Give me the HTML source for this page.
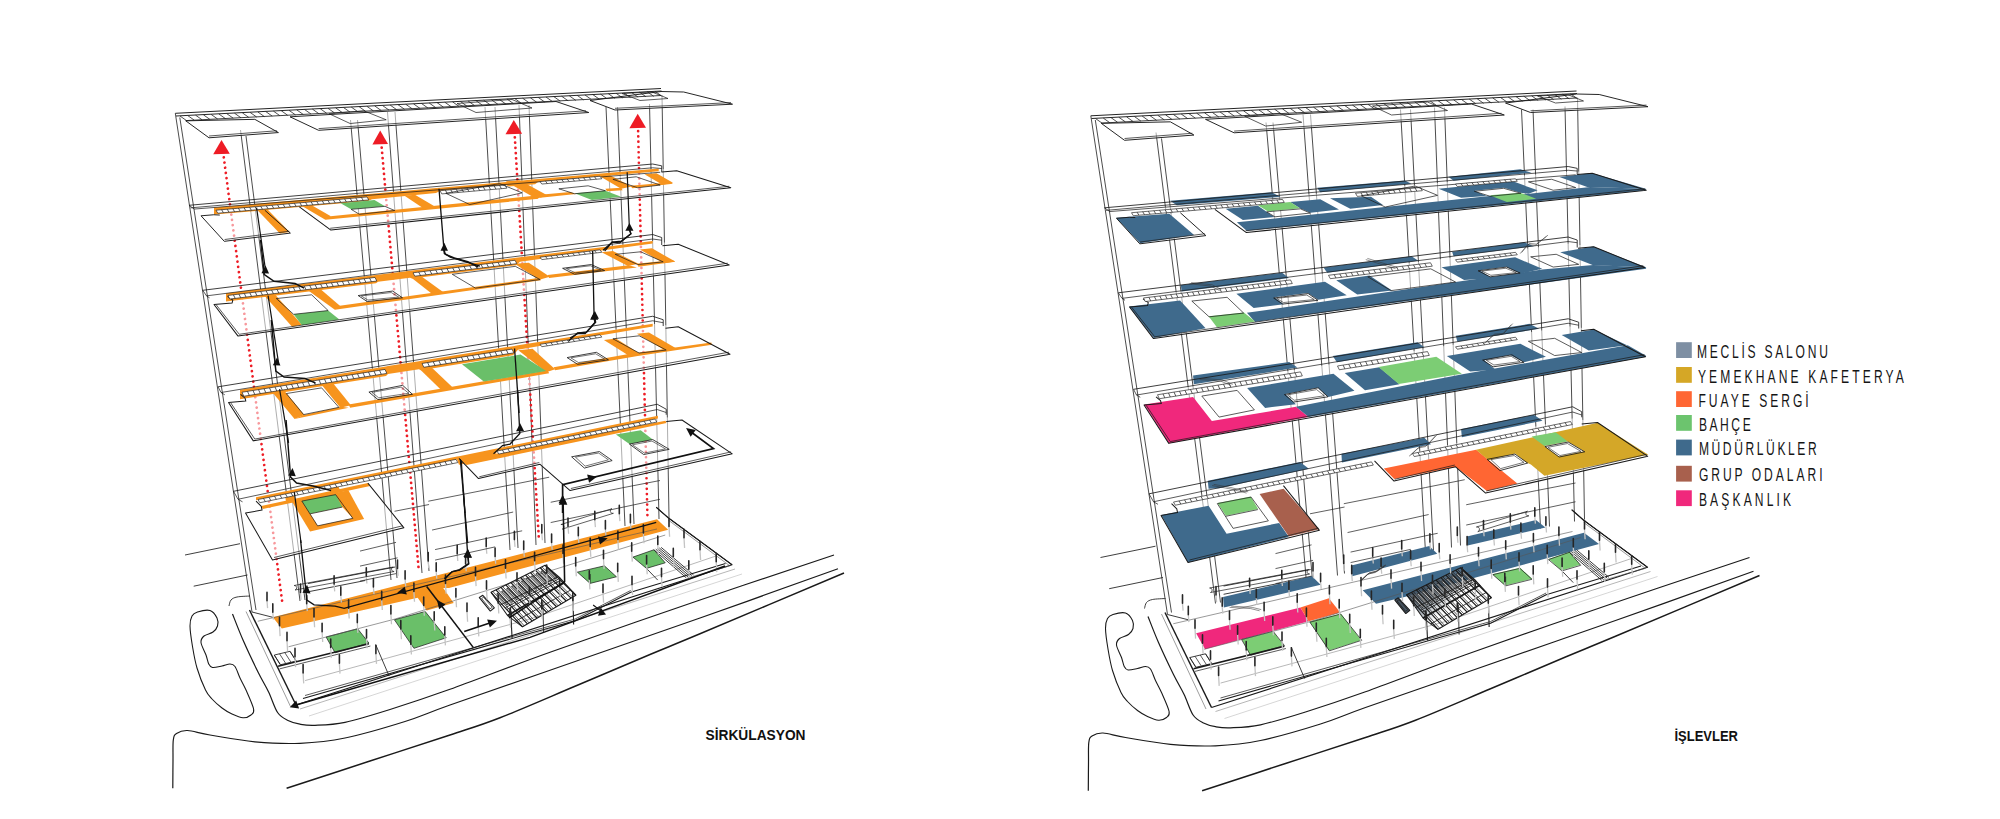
<!DOCTYPE html>
<html lang="tr"><head><meta charset="utf-8"><title>Sirkülasyon / İşlevler</title>
<style>
html,body{margin:0;padding:0;background:#fff;}
body{width:2000px;height:819px;position:relative;overflow:hidden;font-family:"Liberation Sans",sans-serif;}
svg text{font-family:"Liberation Sans",sans-serif;}
</style></head><body>
<svg width="2000" height="819" viewBox="0 0 2000 819" style="position:absolute;left:0;top:0">
<defs><linearGradient id="stg" gradientUnits="userSpaceOnUse" x1="508" y1="572" x2="546" y2="610"><stop offset="0" stop-color="#3d4a57" stop-opacity="0.9"/><stop offset="0.4" stop-color="#5a6875" stop-opacity="0.7"/><stop offset="0.75" stop-color="#8a949e" stop-opacity="0"/></linearGradient></defs>
<g id="L">
<g><polyline points="175.3,113.3 252,612" fill="none" stroke="#2a2a2a" stroke-width="0.84" />
<polyline points="179.8,117.5 256,610" fill="none" stroke="#2a2a2a" stroke-width="0.84" />
<polyline points="240.5,130 300,601" fill="none" stroke="#2a2a2a" stroke-width="0.84" />
<polyline points="246,136 305,600" fill="none" stroke="#2a2a2a" stroke-width="0.84" />
<polyline points="350.5,120 391,580" fill="none" stroke="#2a2a2a" stroke-width="0.84" />
<polyline points="357.5,120 397,578" fill="none" stroke="#2a2a2a" stroke-width="0.84" />
<polyline points="387.5,112 422,573" fill="none" stroke="#2a2a2a" stroke-width="0.84" />
<polyline points="395,112 429,571" fill="none" stroke="#2a2a2a" stroke-width="0.84" />
<polyline points="485,107 510,550" fill="none" stroke="#2a2a2a" stroke-width="0.84" />
<polyline points="495,107 518,548" fill="none" stroke="#2a2a2a" stroke-width="0.84" />
<polyline points="519,105 536,545" fill="none" stroke="#2a2a2a" stroke-width="0.84" />
<polyline points="529,105 545,543" fill="none" stroke="#2a2a2a" stroke-width="0.84" />
<polyline points="606,107 625,526" fill="none" stroke="#2a2a2a" stroke-width="0.84" />
<polyline points="617.5,107 634,524" fill="none" stroke="#2a2a2a" stroke-width="0.84" />
<polyline points="649.5,104 659,519" fill="none" stroke="#2a2a2a" stroke-width="0.84" />
<polyline points="662,95 669,517" fill="none" stroke="#2a2a2a" stroke-width="0.84" /></g>
<g><line x1="223.774" y1="157.3" x2="282.5" y2="604" stroke="#ee1c25" stroke-width="2.7" stroke-linecap="round" stroke-dasharray="0.01 5.25"/>
<line x1="381.691" y1="147.6" x2="418.75" y2="570" stroke="#ee1c25" stroke-width="2.7" stroke-linecap="round" stroke-dasharray="0.01 5.25"/>
<line x1="514.836" y1="137.3" x2="538.75" y2="536.5" stroke="#ee1c25" stroke-width="2.7" stroke-linecap="round" stroke-dasharray="0.01 5.25"/>
<line x1="638.123" y1="131.2" x2="647.5" y2="519" stroke="#ee1c25" stroke-width="2.7" stroke-linecap="round" stroke-dasharray="0.01 5.25"/></g>
<g><polygon points="201.02,215.81 224.29,241.34 290.36,233.08 264.83,210.26" fill="#fff" opacity="0.55" />
<polygon points="299.37,206.8 330.9,230.08 730.78,187.75 676.73,170.78 658.7,168.5 213.8,207.6" fill="#fff" opacity="0.55" />
<polygon points="214.02,304.56 238.05,336.1 729.28,265 678.23,244.28 652.7,241 226,293.3" fill="#fff" opacity="0.55" />
<polygon points="228.53,402.58 253.3,440.87 730.03,354.26 678.23,326.79 652.7,323.8 239.8,389.8" fill="#fff" opacity="0.55" />
<polygon points="245.53,513.09 272.5,560 403.93,527.81 367.9,483.06 256.04,497.33" fill="#fff" opacity="0.55" />
<polygon points="459.01,458.32 478.53,478.59 540.09,464.32 570.12,490.6 732.28,453.81 681.98,420.03 657.96,415.83" fill="#fff" opacity="0.55" />
<polygon points="185.77,120.84 209.04,137.81 278.41,132.55 254.83,119.34" fill="#fff" opacity="0.55" />
<polygon points="290,116.8 318.6,130.3 588.8,112.5 556,101.5" fill="#fff" opacity="0.55" />
<polygon points="590,100.5 615,110 732.5,104.2 683.7,92 661,91.5" fill="#fff" opacity="0.55" /></g>
<g><polygon points="214,207.582 368,194.048 372,193.697 436,188.072 440,187.72 506,181.92 509,181.656 535,179.371 538,179.108 658.7,168.5 658.7,171.3 538,182.108 535,184.171 509,186.456 506,185.12 440,190.92 436,193.072 372,199.197 368,201.048 214,214.582" fill="#f7941d" />
<polygon points="255.83,208.6 265.59,207.55 289.61,231.88 279.85,233.38" fill="#f7941d" />
<polygon points="302.37,206.35 312.13,205.45 330.9,216.26 325.35,219.86" fill="#f7941d" />
<polygon points="327.9,216.56 534.08,195.86 538.59,198.86 325.35,219.86" fill="#f7941d" />
<polygon points="540.09,194.65 570.12,191.95 576.13,194.05 540.09,197.81" fill="#f7941d" />
<polygon points="404.47,195.84 414.98,194.79 435.26,206.8 423.99,208.75" fill="#f7941d" />
<polygon points="505.56,181.29 519.82,180.24 547.6,195.56 536.34,198.86" fill="#f7941d" />
<polygon points="599.4,176.04 609.91,175.29 631.68,186.55 621.17,188.8" fill="#f7941d" />
<polygon points="605.41,188.8 621.17,187.75 622.67,190.3 606.91,191.35" fill="#f7941d" />
<polygon points="644.44,174.23 656.46,173.33 672.97,182.79 662.46,184.74" fill="#f7941d" />
<polygon points="630.18,185.8 670.72,182.34 672.97,183.84 632.43,188.35" fill="#f7941d" />
<polygon points="340.66,203.35 374.44,200.05 384.95,206.35 351.17,209.35" fill="#6abf69" />
<polygon points="574.62,193.3 605.41,190.75 621.17,196.76 591.89,200.06" fill="#6abf69" />
<polygon points="226,293.3 376,274.915 378,274.67 410,270.747 412,270.502 516,257.755 520,257.265 600,247.459 652.7,241 652.7,243.4 600,250.659 520,261.865 516,265.255 412,278.502 410,277.747 378,281.67 376,283.215 226,301.6" fill="#f7941d" />
<polygon points="264.32,295.56 274.83,294.35 301.86,324.83 292.1,326.79" fill="#f7941d" />
<polygon points="307.87,290.3 320.63,289.25 340.15,306.07 334.89,309.82" fill="#f7941d" />
<polygon points="337.9,306.07 540.09,277.76 540.84,280.32 334.89,309.82" fill="#f7941d" />
<polygon points="547.6,275.06 628.68,265.3 636.94,267.55 549.1,278.06" fill="#f7941d" />
<polygon points="411.47,277.84 421.98,276.79 443.75,292.55 432.49,294.35" fill="#f7941d" />
<polygon points="514.56,263.8 528.83,262.75 549.85,276.86 539.34,279.86" fill="#f7941d" />
<polygon points="601.65,252.24 612.91,251.04 638.44,263.8 627.93,266.05" fill="#f7941d" />
<polygon points="639.94,249.53 651.95,248.33 675.23,261.55 663.96,263.35" fill="#f7941d" />
<polygon points="636.94,263.8 672.22,260.05 675.23,261.85 638.44,266.8" fill="#f7941d" />
<polygon points="293.6,314.32 328.14,310.57 339.4,319.58 301.86,325.29" fill="#6abf69" />
<polygon points="240,389.768 386,366.431 388,366.111 419,361.156 421,360.836 513,346.13 518,345.331 600,332.224 652.7,323.8 652.7,326.4 600,335.624 518,349.831 513,355.13 421,370.336 419,369.156 388,374.111 386,375.931 240,399.268" fill="#f7941d" />
<polygon points="269.82,389.37 281.83,387.87 304.35,414.89 294.59,419.1" fill="#f7941d" />
<polygon points="303.6,414.89 341.14,406.79 348.65,407.84 294.59,419.1" fill="#f7941d" />
<polygon points="317.87,380.36 329.88,379.31 350.9,405.29 340.39,407.84" fill="#f7941d" />
<polygon points="348.65,404.38 547.6,370.33 549.1,373.33 350.15,407.84" fill="#f7941d" />
<polygon points="553.6,367.33 630.18,353.81 711.26,342.55 712.01,344.8 637.69,356.07 555.11,370.33" fill="#f7941d" />
<polygon points="415.47,365.05 427.48,363.54 453,387.87 441.74,390.57" fill="#f7941d" />
<polygon points="518.32,350.36 532.58,348.86 555.11,369.28 546.1,372.28" fill="#f7941d" />
<polygon points="603.9,340 615.92,338.5 639.94,353.81 629.43,356.07" fill="#f7941d" />
<polygon points="636.94,333.84 648.95,332.49 675.98,348.26 664.71,350.36" fill="#f7941d" />
<polygon points="462.01,364.32 520.57,354.56 546.1,371.08 483.78,381.59" fill="#6abf69" />
<polygon points="256,497.338 457,456.58 459,456.174 493,449.28 497,448.469 657.9,415.842 657.9,418.442 497,451.469 493,457.78 459,464.674 457,459.38 256,500.138" fill="#f7941d" />
<polygon points="261.29,505.89 367.9,483.06 370.15,486.07 262.79,508.89" fill="#f7941d" />
<polygon points="284.56,493.87 293.57,492.07 295.08,499.58 286.07,501.38" fill="#f7941d" />
<polygon points="328.86,484.86 337.12,483.36 340.12,490.57 331.11,492.07" fill="#f7941d" />
<polygon points="460.51,460.57 665.47,420.78 666.52,423.03 466.52,465.08" fill="#f7941d" />
<polygon points="598.65,429.34 604.65,428.29 606.91,432.79 600.15,433.84" fill="#f7941d" />
<polygon points="634.68,422.28 640.69,421.23 642.94,425.44 636.94,426.49" fill="#f7941d" />
<polygon points="292.07,501.83 348.38,490.27 364.14,519.1 310.09,531.41" fill="#f7941d" />
<polygon points="301.83,501.08 335.62,494.62 342.37,507.09 310.09,513.84" fill="#6abf69" />
<polygon points="310.09,513.84 342.37,507.09 352.88,518.35 317.6,525.86" fill="#fff" />
<polygon points="615.92,434.59 640.69,430.24 652.7,439.55 629.43,444.05" fill="#6abf69" />
<polygon points="272.8,617.3 657,519.3 668.2,529.8 449,588 443.21,588.05 453.72,603.06 426.7,610.57 417.69,597.81 281.8,628.6" fill="#f7941d" />
<polygon points="326.1,637.03 357.63,628.77 368.89,643.03 335.11,652.79" fill="#6abf69" />
<polygon points="394.41,619.76 425.2,611.5 446.22,637.78 413.93,648.29" fill="#6abf69" />
<polygon points="577.39,572.13 604.41,565.83 616.43,576.79 590.15,583.39" fill="#6abf69" />
<polygon points="632.94,557.12 653.96,549.76 665.23,562.82 646.46,568.38" fill="#6abf69" />
<polygon points="491.05,592.28 545.11,565.26 560.12,578.02 575.89,595.29 522.58,626.82 507.57,615.56" fill="#fff" /></g>
<g stroke-linejoin="round"><path d="M286.6,788.3 C300.50,783.75 342.77,769.88 370,761 C397.23,752.12 428.33,742.21 450,735 C471.67,727.79 479.17,725.87 500,717.75 C520.83,709.63 550.00,696.84 575,686.3 C600.00,675.76 629.17,663.25 650,654.5 C670.83,645.75 667.67,647.38 700,633.8 C732.33,620.22 820.00,583.13 844,573" fill="none" stroke="#1a1a1a" stroke-width="1.5"/>
<path d="M172.8,788.3 C172.83,783.58 172.92,768.05 173,760 C173.08,751.95 172.72,744.42 173.3,740 C173.88,735.58 174.13,735.08 176.5,733.5 C178.87,731.92 181.92,730.25 187.5,730.5 C193.08,730.75 198.75,733.12 210,735 C221.25,736.88 240.00,740.42 255,741.8 C270.00,743.18 285.00,743.93 300,743.3 C315.00,742.67 327.50,741.63 345,738 C362.50,734.37 387.50,727.00 405,721.5 C422.50,716.00 425.83,713.55 450,705 C474.17,696.45 508.33,684.70 550,670.2 C591.67,655.70 652.00,634.90 700,618 C748.00,601.10 815.00,577.00 838,568.8" fill="none" stroke="#1a1a1a" stroke-width="1.2"/>
<path d="M232.5,614 C234.25,618.33 238.75,630.33 243,640 C247.25,649.67 253.73,663.33 258,672 C262.27,680.67 265.33,685.25 268.6,692 C271.87,698.75 274.37,707.75 277.6,712.5 C280.83,717.25 284.27,718.55 288,720.5 C291.73,722.45 295.50,723.40 300,724.2 C304.50,725.00 307.50,725.62 315,725.3 C322.50,724.98 332.50,724.93 345,722.3 C357.50,719.67 372.50,715.00 390,709.5 C407.50,704.00 423.33,698.85 450,689.3 C476.67,679.75 508.33,667.08 550,652.2 C591.67,637.32 652.67,616.20 700,600 C747.33,583.80 811.67,562.50 834,555" fill="none" stroke="#1a1a1a" stroke-width="1.2"/>
<path d="M190,626 C189.92,620.92 190.75,618.33 192,616 C193.25,613.67 194.50,612.92 197.5,612 C200.50,611.08 206.75,609.50 210,610.5 C213.25,611.50 215.75,615.42 217,618 C218.25,620.58 218.17,623.67 217.5,626 C216.83,628.33 215.25,630.33 213,632 C210.75,633.67 206.00,634.25 204,636 C202.00,637.75 200.67,639.33 201,642.5 C201.33,645.67 204.71,651.42 206,655 C207.29,658.58 207.67,661.92 208.75,664 C209.83,666.08 210.29,667.17 212.5,667.5 C214.71,667.83 219.08,666.58 222,666 C224.92,665.42 227.83,663.92 230,664 C232.17,664.08 233.33,664.17 235,666.5 C236.67,668.83 238.17,674.08 240,678 C241.83,681.92 243.73,684.83 246,690 C248.27,695.17 252.77,704.83 253.6,709 C254.43,713.17 252.77,713.53 251,715 C249.23,716.47 246.17,717.97 243,717.8 C239.83,717.63 235.50,715.63 232,714 C228.50,712.37 225.33,710.50 222,708 C218.67,705.50 214.75,702.00 212,699 C209.25,696.00 208.00,695.17 205.5,690 C203.00,684.83 199.17,675.25 197,668 C194.83,660.75 193.67,653.50 192.5,646.5 C191.33,639.50 190.08,631.08 190,626Z" fill="none" stroke="#1a1a1a" stroke-width="1.08"/>
<polyline points="175.3,113.3 661,88.5" fill="none" stroke="#1a1a1a" stroke-width="0.96" />
<polyline points="176,116 661.5,91" fill="none" stroke="#1a1a1a" stroke-width="0.96" />
<polyline points="185.8,120.6 661,95.5" fill="none" stroke="#1a1a1a" stroke-width="0.84" />
<path d="M180.0,116.0L186.5,120.6M187.8,115.6L194.3,120.2M195.6,115.2L202.1,119.8M203.4,114.8L209.9,119.4M211.1,114.4L217.6,119.0M218.9,114.0L225.4,118.6M226.7,113.6L233.2,118.2M234.5,113.2L241.0,117.8M242.3,112.8L248.8,117.4M250.1,112.4L256.6,117.0M257.9,112.0L264.4,116.6M265.7,111.5L272.2,116.1M273.4,111.1L279.9,115.7M281.2,110.7L287.7,115.3M289.0,110.3L295.5,114.9M296.8,109.9L303.3,114.5M304.6,109.5L311.1,114.1M312.4,109.1L318.9,113.7M320.2,108.7L326.7,113.3M328.0,108.3L334.5,112.9M335.7,107.9L342.2,112.5M343.5,107.5L350.0,112.1M351.3,107.1L357.8,111.7M359.1,106.7L365.6,111.3M366.9,106.3L373.4,110.9M374.7,105.9L381.2,110.5M382.5,105.5L389.0,110.1M390.2,105.1L396.7,109.7M398.0,104.7L404.5,109.3M405.8,104.3L412.3,108.9M413.6,103.9L420.1,108.5M421.4,103.4L427.9,108.0M429.2,103.0L435.7,107.6M437.0,102.6L443.5,107.2M444.8,102.2L451.3,106.8M452.5,101.8L459.0,106.4M460.3,101.4L466.8,106.0M468.1,101.0L474.6,105.6M475.9,100.6L482.4,105.2M483.7,100.2L490.2,104.8M491.5,99.8L498.0,104.4M499.3,99.4L505.8,104.0M507.0,99.0L513.5,103.6M514.8,98.6L521.3,103.2M522.6,98.2L529.1,102.8M530.4,97.8L536.9,102.4M538.2,97.4L544.7,102.0M546.0,97.0L552.5,101.6M553.8,96.6L560.3,101.2M561.6,96.2L568.1,100.8M569.3,95.8L575.8,100.4M577.1,95.3L583.6,99.9M584.9,94.9L591.4,99.5M592.7,94.5L599.2,99.1M600.5,94.1L607.0,98.7M608.3,93.7L614.8,98.3M616.1,93.3L622.6,97.9M623.9,92.9L630.4,97.5M631.6,92.5L638.1,97.1M639.4,92.1L645.9,96.7M647.2,91.7L653.7,96.3M655.0,91.3L661.5,95.9" stroke="#222" stroke-width="0.8" fill="none"/>
<polygon points="185.77,120.84 209.04,137.81 278.41,132.55 254.83,119.34" fill="none" stroke="#1c1c1c" stroke-width="0.96" />
<polyline points="209.04,136.01 276.91,130.75" fill="none" stroke="#1a1a1a" stroke-width="0.72" />
<polygon points="290,116.8 318.6,130.3 588.8,112.5 556,101.5" fill="none" stroke="#1c1c1c" stroke-width="0.96" />
<polyline points="318.6,128.6 586,110.8" fill="none" stroke="#1a1a1a" stroke-width="0.72" />
<polygon points="329.16,113.78 350.18,123.54 386.22,119.79 363.69,110.78" fill="none" stroke="#1c1c1c" stroke-width="0.72" />
<polygon points="457,103.5 476,112.5 532,108 512,99.5" fill="none" stroke="#1c1c1c" stroke-width="0.72" />
<polygon points="590,100.5 615,110 732.5,104.2 683.7,92 661,91.5" fill="none" stroke="#1c1c1c" stroke-width="0.96" />
<polyline points="615,108.3 731,102.6" fill="none" stroke="#1a1a1a" stroke-width="0.72" />
<polygon points="622,93.5 640,100.5 668,98.5 652,92" fill="none" stroke="#1c1c1c" stroke-width="0.72" />
<polyline points="264.83,210.26 290.36,233.08 224.29,241.34 201.02,215.81 213.78,214.76 219.79,215.06" fill="none" stroke="#1a1a1a" stroke-width="0.96" />
<polyline points="224.59,239.53 289.16,231.28" fill="none" stroke="#1a1a1a" stroke-width="0.72" />
<polyline points="299.37,206.8 330.9,230.08 730.78,187.75 676.73,170.78 661.71,171.98" fill="none" stroke="#1a1a1a" stroke-width="1.02" />
<polyline points="330.15,228.27 729.28,186.25" fill="none" stroke="#1a1a1a" stroke-width="0.72" />
<polyline points="189.01,205.3 652.7,164.02 661.71,165.83 661.71,172.28" fill="none" stroke="#1a1a1a" stroke-width="0.84" />
<polyline points="190.51,207.85 652.7,167.78 661.71,168.53" fill="none" stroke="#1a1a1a" stroke-width="0.72" />
<polyline points="189.01,205.3 194.26,209.05 660.21,172.28" fill="none" stroke="#1a1a1a" stroke-width="0.72" />
<polygon points="216,210.207 367,196.936 368.8,199.936 217.8,213.207" fill="#fff" stroke="#1c1c1c" stroke-width="0.66" />
<path d="M221.6,209.7L223.4,212.7M227.2,209.2L229.0,212.2M232.8,208.7L234.6,211.7M238.4,208.2L240.2,211.2M244.0,207.7L245.8,210.7M249.6,207.3L251.4,210.3M255.1,206.8L256.9,209.8M260.7,206.3L262.5,209.3M266.3,205.8L268.1,208.8M271.9,205.3L273.7,208.3M277.5,204.8L279.3,207.8M283.1,204.3L284.9,207.3M288.7,203.8L290.5,206.8M294.3,203.3L296.1,206.3M299.9,202.8L301.7,205.8M305.5,202.3L307.3,205.3M311.1,201.9L312.9,204.9M316.7,201.4L318.5,204.4M322.3,200.9L324.1,203.9M327.9,200.4L329.7,203.4M333.4,199.9L335.2,202.9M339.0,199.4L340.8,202.4M344.6,198.9L346.4,201.9M350.2,198.4L352.0,201.4M355.8,197.9L357.6,200.9M361.4,197.4L363.2,200.4" stroke="#222" stroke-width="0.75" fill="none"/>
<polygon points="440,190.72 505,185.008 506.8,188.208 441.8,193.92" fill="#fff" stroke="#1c1c1c" stroke-width="0.66" />
<path d="M445.4,190.2L447.2,193.4M450.8,189.8L452.6,193.0M456.2,189.3L458.1,192.5M461.7,188.8L463.5,192.0M467.1,188.3L468.9,191.5M472.5,187.9L474.3,191.1M477.9,187.4L479.7,190.6M483.3,186.9L485.1,190.1M488.8,186.4L490.6,189.6M494.2,186.0L496.0,189.2M499.6,185.5L501.4,188.7" stroke="#222" stroke-width="0.75" fill="none"/>
<polygon points="540,181.532 600,176.259 601.8,178.759 541.8,184.032" fill="#fff" stroke="#1c1c1c" stroke-width="0.66" />
<path d="M545.5,181.1L547.3,183.6M550.9,180.6L552.7,183.1M556.4,180.1L558.2,182.6M561.8,179.6L563.6,182.1M567.3,179.1L569.1,181.6M572.7,178.7L574.5,181.2M578.2,178.2L580.0,180.7M583.6,177.7L585.4,180.2M589.1,177.2L590.9,179.7M594.5,176.7L596.3,179.2" stroke="#222" stroke-width="0.75" fill="none"/>
<polygon points="351.17,209.35 359.43,214.31 394.71,210.56 384.95,206.35" fill="none" stroke="#1c1c1c" stroke-width="0.72" />
<polygon points="558.86,188.8 588.14,185.8 605.41,190.75 574.62,193.75" fill="none" stroke="#1c1c1c" stroke-width="0.72" />
<polygon points="445.77,193.29 469.79,204.55 522.07,192.85 499.55,183.54" fill="none" stroke="#1c1c1c" stroke-width="0.72" />
<polygon points="612.91,179.34 637.69,187.75 660.21,185.05 636.19,176.79" fill="none" stroke="#1c1c1c" stroke-width="0.72" />
<polyline points="227.54,296.31 232.79,300.06 232.04,303.06 214.02,304.56 238.05,336.1 729.28,265 678.23,244.28 662.46,245.78" fill="none" stroke="#1a1a1a" stroke-width="1.02" />
<polyline points="216.28,304.86 239.25,334.29 727.78,263.2" fill="none" stroke="#1a1a1a" stroke-width="0.72" />
<polyline points="202.76,290.3 652.7,234.52 661.71,237.52 661.71,245.03" fill="none" stroke="#1a1a1a" stroke-width="0.84" />
<polyline points="206.52,295.86 652.7,239.02 661.71,240.23" fill="none" stroke="#1a1a1a" stroke-width="0.72" />
<polyline points="202.76,290.3 206.52,295.86 209.52,297.81" fill="none" stroke="#1a1a1a" stroke-width="0.72" />
<polygon points="228,295.455 375,277.437 376.8,281.037 229.8,299.055" fill="#fff" stroke="#1c1c1c" stroke-width="0.66" />
<path d="M233.4,294.8L235.2,298.4M238.9,294.1L240.7,297.7M244.3,293.5L246.1,297.1M249.8,292.8L251.6,296.4M255.2,292.1L257.0,295.7M260.7,291.5L262.5,295.1M266.1,290.8L267.9,294.4M271.6,290.1L273.4,293.7M277.0,289.4L278.8,293.0M282.4,288.8L284.2,292.4M287.9,288.1L289.7,291.7M293.3,287.4L295.1,291.0M298.8,286.8L300.6,290.4M304.2,286.1L306.0,289.7M309.7,285.4L311.5,289.0M315.1,284.8L316.9,288.4M320.6,284.1L322.4,287.7M326.0,283.4L327.8,287.0M331.4,282.8L333.2,286.4M336.9,282.1L338.7,285.7M342.3,281.4L344.1,285.0M347.8,280.8L349.6,284.4M353.2,280.1L355.0,283.7M358.7,279.4L360.5,283.0M364.1,278.8L365.9,282.4M369.6,278.1L371.4,281.7" stroke="#222" stroke-width="0.75" fill="none"/>
<polygon points="413,272.78 515,260.278 516.8,263.678 414.8,276.18" fill="#fff" stroke="#1c1c1c" stroke-width="0.66" />
<path d="M418.7,272.1L420.5,275.5M424.3,271.4L426.1,274.8M430.0,270.7L431.8,274.1M435.7,270.0L437.5,273.4M441.3,269.3L443.1,272.7M447.0,268.6L448.8,272.0M452.7,267.9L454.5,271.3M458.3,267.2L460.1,270.6M464.0,266.5L465.8,269.9M469.7,265.8L471.5,269.2M475.3,265.1L477.1,268.5M481.0,264.4L482.8,267.8M486.7,263.8L488.5,267.2M492.3,263.1L494.1,266.5M498.0,262.4L499.8,265.8M503.7,261.7L505.5,265.1M509.3,261.0L511.1,264.4" stroke="#222" stroke-width="0.75" fill="none"/>
<polygon points="540,257.213 600,249.859 601.8,252.259 541.8,259.613" fill="#fff" stroke="#1c1c1c" stroke-width="0.66" />
<path d="M545.5,256.5L547.3,258.9M550.9,255.9L552.7,258.3M556.4,255.2L558.2,257.6M561.8,254.5L563.6,256.9M567.3,253.9L569.1,256.3M572.7,253.2L574.5,255.6M578.2,252.5L580.0,254.9M583.6,251.9L585.4,254.3M589.1,251.2L590.9,253.6M594.5,250.5L596.3,252.9" stroke="#222" stroke-width="0.75" fill="none"/>
<polygon points="276.34,298.56 293.6,314.32 328.14,310.57 311.62,294.8" fill="none" stroke="#1c1c1c" stroke-width="0.72" />
<polygon points="358.17,295.56 367.18,301.56 402.46,297.81 392.7,291.05" fill="none" stroke="#1c1c1c" stroke-width="0.84" />
<polygon points="361.17,295.86 367.93,300.06 398.71,297.06 391.2,292.55" fill="none" stroke="#1c1c1c" stroke-width="0.6" />
<polygon points="562.61,268.3 574.62,274.31 604.65,270.56 591.14,264.55" fill="none" stroke="#1c1c1c" stroke-width="0.84" />
<polygon points="566.37,268.6 575.38,272.81 600.9,270.11 590.39,265.75" fill="none" stroke="#1c1c1c" stroke-width="0.6" />
<polygon points="452.25,274.31 475.53,288.12 540.09,279.56 515.32,266.35" fill="none" stroke="#1c1c1c" stroke-width="0.72" />
<polygon points="615.17,254.34 637.69,264.55 663.21,261.85 640.69,251.79" fill="none" stroke="#1c1c1c" stroke-width="0.72" />
<polyline points="240.54,394.32 245.05,398.08 245.8,401.08 228.53,402.58 253.3,440.87 730.03,354.26 678.23,326.79 665.47,328.29" fill="none" stroke="#1a1a1a" stroke-width="1.02" />
<polyline points="230.78,402.88 254.8,439.07 728.98,352.16" fill="none" stroke="#1a1a1a" stroke-width="0.72" />
<polyline points="218.02,386.82 652.7,316.28 663.21,319.73 663.21,326.04" fill="none" stroke="#1a1a1a" stroke-width="0.84" />
<polyline points="221.02,392.52 652.7,320.78 663.21,322.73" fill="none" stroke="#1a1a1a" stroke-width="0.72" />
<polyline points="218.02,386.82 221.02,392.52 224.77,394.77" fill="none" stroke="#1a1a1a" stroke-width="0.72" />
<polygon points="242,392.248 385,369.391 386.8,373.391 243.8,396.248" fill="#fff" stroke="#1c1c1c" stroke-width="0.66" />
<path d="M247.5,391.4L249.3,395.4M253.0,390.5L254.8,394.5M258.5,389.6L260.3,393.6M264.0,388.7L265.8,392.7M269.5,387.9L271.3,391.9M275.0,387.0L276.8,391.0M280.5,386.1L282.3,390.1M286.0,385.2L287.8,389.2M291.5,384.3L293.3,388.3M297.0,383.5L298.8,387.5M302.5,382.6L304.3,386.6M308.0,381.7L309.8,385.7M313.5,380.8L315.3,384.8M319.0,379.9L320.8,383.9M324.5,379.1L326.3,383.1M330.0,378.2L331.8,382.2M335.5,377.3L337.3,381.3M341.0,376.4L342.8,380.4M346.5,375.5L348.3,379.5M352.0,374.7L353.8,378.7M357.5,373.8L359.3,377.8M363.0,372.9L364.8,376.9M368.5,372.0L370.3,376.0M374.0,371.1L375.8,375.1M379.5,370.3L381.3,374.3" stroke="#222" stroke-width="0.75" fill="none"/>
<polygon points="422,363.476 512,349.09 513.8,352.89 423.8,367.276" fill="#fff" stroke="#1c1c1c" stroke-width="0.66" />
<path d="M427.6,362.6L429.4,366.4M433.2,361.7L435.1,365.5M438.9,360.8L440.7,364.6M444.5,359.9L446.3,363.7M450.1,359.0L451.9,362.8M455.8,358.1L457.6,361.9M461.4,357.2L463.2,361.0M467.0,356.3L468.8,360.1M472.6,355.4L474.4,359.2M478.2,354.5L480.1,358.3M483.9,353.6L485.7,357.4M489.5,352.7L491.3,356.5M495.1,351.8L496.9,355.6M500.8,350.9L502.6,354.7M506.4,350.0L508.2,353.8" stroke="#222" stroke-width="0.75" fill="none"/>
<polygon points="540,344.315 600,334.724 601.8,337.124 541.8,346.715" fill="#fff" stroke="#1c1c1c" stroke-width="0.66" />
<path d="M545.5,343.4L547.3,345.8M550.9,342.6L552.7,345.0M556.4,341.7L558.2,344.1M561.8,340.8L563.6,343.2M567.3,340.0L569.1,342.4M572.7,339.1L574.5,341.5M578.2,338.2L580.0,340.6M583.6,337.3L585.4,339.7M589.1,336.5L590.9,338.9M594.5,335.6L596.3,338.0" stroke="#222" stroke-width="0.75" fill="none"/>
<polygon points="286.34,393.57 303.6,414.59 338.89,407.39 321.62,387.87" fill="none" stroke="#1c1c1c" stroke-width="0.72" />
<polygon points="368.92,392.07 377.93,399.58 412.46,394.32 402.7,385.32" fill="none" stroke="#1c1c1c" stroke-width="0.84" />
<polygon points="371.92,392.37 378.68,397.78 408.71,393.27 401.2,387.12" fill="none" stroke="#1c1c1c" stroke-width="0.6" />
<polygon points="567.12,357.57 577.63,364.32 608.41,359.82 596.4,352.31" fill="none" stroke="#1c1c1c" stroke-width="0.84" />
<polygon points="570.87,357.87 578.38,362.52 604.65,359.07 595.65,353.81" fill="none" stroke="#1c1c1c" stroke-width="0.6" />
<polygon points="612.91,338.8 639.19,353.06 666.22,350.06 639.19,335.8" fill="none" stroke="#1c1c1c" stroke-width="0.72" />
<polyline points="256.04,501.08 261.29,506.34 262.04,510.09 245.53,513.09 272.5,560 403.93,527.81 367.9,483.06" fill="none" stroke="#1a1a1a" stroke-width="1.02" />
<polyline points="274,557.5 402.88,525.71" fill="none" stroke="#1a1a1a" stroke-width="0.72" />
<polyline points="459.01,458.32 478.53,478.59 540.09,464.32 570.12,490.6 732.28,453.81 681.98,420.03 666.22,421.53" fill="none" stroke="#1a1a1a" stroke-width="1.02" />
<polyline points="479.28,476.79 539.34,462.52" fill="none" stroke="#1a1a1a" stroke-width="0.72" />
<polyline points="570.87,488.5 731.08,451.86" fill="none" stroke="#1a1a1a" stroke-width="0.72" />
<polyline points="233.51,491.32 657.21,404.26 666.22,409.22 666.22,414.77" fill="none" stroke="#1a1a1a" stroke-width="0.84" />
<polyline points="238.02,499.28 657.21,409.52 666.22,412.52" fill="none" stroke="#1a1a1a" stroke-width="0.72" />
<polyline points="233.51,491.32 238.02,499.28 242.52,501.83" fill="none" stroke="#1a1a1a" stroke-width="0.72" />
<polygon points="301.83,501.08 335.62,494.62 352.88,518.35 317.6,525.86" fill="none" stroke="#1c1c1c" stroke-width="0.72" />
<polyline points="310.09,513.84 342.37,507.09" fill="none" stroke="#1a1a1a" stroke-width="0.72" />
<polygon points="629.43,444.05 652.7,439.55 669.22,449.31 643.69,454.56" fill="none" stroke="#1c1c1c" stroke-width="0.84" />
<polygon points="632.43,444.8 651.95,441.05 665.47,448.86 644.44,453.06" fill="none" stroke="#1c1c1c" stroke-width="0.6" />
<polygon points="571.62,456.82 584.38,468.08 612.16,460.57 599.4,451.56" fill="none" stroke="#1c1c1c" stroke-width="0.84" />
<polygon points="575.38,457.12 585.14,466.13 608.41,459.82 598.65,453.06" fill="none" stroke="#1c1c1c" stroke-width="0.6" />
<polygon points="258,499.533 456,459.383 457.8,462.583 259.8,502.733" fill="#fff" stroke="#1c1c1c" stroke-width="0.66" />
<path d="M263.5,498.4L265.3,501.6M269.0,497.3L270.8,500.5M274.5,496.2L276.3,499.4M280.0,495.1L281.8,498.3M285.5,494.0L287.3,497.2M291.0,492.8L292.8,496.0M296.5,491.7L298.3,494.9M302.0,490.6L303.8,493.8M307.5,489.5L309.3,492.7M313.0,488.4L314.8,491.6M318.5,487.3L320.3,490.5M324.0,486.1L325.8,489.3M329.5,485.0L331.3,488.2M335.0,483.9L336.8,487.1M340.5,482.8L342.3,486.0M346.0,481.7L347.8,484.9M351.5,480.6L353.3,483.8M357.0,479.5L358.8,482.7M362.5,478.3L364.3,481.5M368.0,477.2L369.8,480.4M373.5,476.1L375.3,479.3M379.0,475.0L380.8,478.2M384.5,473.9L386.3,477.1M390.0,472.8L391.8,476.0M395.5,471.7L397.3,474.9M401.0,470.5L402.8,473.7M406.5,469.4L408.3,472.6M412.0,468.3L413.8,471.5M417.5,467.2L419.3,470.4M423.0,466.1L424.8,469.3M428.5,465.0L430.3,468.2M434.0,463.8L435.8,467.0M439.5,462.7L441.3,465.9M445.0,461.6L446.8,464.8M450.5,460.5L452.3,463.7" stroke="#222" stroke-width="0.75" fill="none"/>
<polygon points="497,451.069 655,419.03 656.8,422.03 498.8,454.069" fill="#fff" stroke="#1c1c1c" stroke-width="0.66" />
<path d="M502.4,450.0L504.2,453.0M507.9,448.9L509.7,451.9M513.3,447.8L515.1,450.8M518.8,446.6L520.6,449.6M524.2,445.5L526.0,448.5M529.7,444.4L531.5,447.4M535.1,443.3L536.9,446.3M540.6,442.2L542.4,445.2M546.0,441.1L547.8,444.1M551.5,440.0L553.3,443.0M556.9,438.9L558.7,441.9M562.4,437.8L564.2,440.8M567.8,436.7L569.6,439.7M573.3,435.6L575.1,438.6M578.7,434.5L580.5,437.5M584.2,433.4L586.0,436.4M589.6,432.3L591.4,435.3M595.1,431.2L596.9,434.2M600.5,430.1L602.3,433.1M606.0,429.0L607.8,432.0M611.4,427.9L613.2,430.9M616.9,426.8L618.7,429.8M622.3,425.7L624.1,428.7M627.8,424.6L629.6,427.6M633.2,423.4L635.0,426.4M638.7,422.3L640.5,425.3M644.1,421.2L645.9,424.2M649.6,420.1L651.4,423.1" stroke="#222" stroke-width="0.75" fill="none"/>
<polygon points="326.1,637.03 357.63,628.77 368.89,643.03 335.11,652.79" fill="none" stroke="#1c1c1c" stroke-width="0.72" />
<polygon points="394.41,619.76 425.2,611.5 446.22,637.78 413.93,648.29" fill="none" stroke="#1c1c1c" stroke-width="0.72" />
<polygon points="577.39,572.13 604.41,565.83 616.43,576.79 590.15,583.39" fill="none" stroke="#1c1c1c" stroke-width="0.72" />
<polygon points="632.94,557.12 653.96,549.76 665.23,562.82 646.46,568.38" fill="none" stroke="#1c1c1c" stroke-width="0.72" />
<polyline points="249.5,610 296,705" fill="none" stroke="#1a1a1a" stroke-width="1.44" />
<polyline points="296,705 732,564.8 668.2,517.8 656.22,507.27" fill="none" stroke="#1a1a1a" stroke-width="1.2" />
<polyline points="252,612 272.8,617.3" fill="none" stroke="#1a1a1a" stroke-width="0.84" />
<polyline points="246,611.5 290.5,706.5" fill="none" stroke="#777" stroke-width="0.72" />
<polyline points="300,709 735,569" fill="none" stroke="#999" stroke-width="0.72" />
<polyline points="309,716 742,574" fill="none" stroke="#bbb" stroke-width="0.6" />
<polyline points="303,698.5 524.08,635.08 575.14,620.81 630.69,592.28 725.5,563.5" fill="none" stroke="#1a1a1a" stroke-width="1.08" />
<polyline points="305,695.5 524.08,633.27 575.14,619.01 630.69,590.48" fill="none" stroke="#1a1a1a" stroke-width="0.72" />
<polyline points="278.05,666.31 368.89,643.78" fill="none" stroke="#1a1a1a" stroke-width="1.56" />
<polyline points="279.55,668.86 370.39,646.04" fill="none" stroke="#1a1a1a" stroke-width="0.72" />
<polyline points="257.78,621.26 657,529" fill="none" stroke="#555" stroke-width="0.6" />
<polyline points="288.56,646.79 395.17,619.01 665.23,535.05" fill="none" stroke="#555" stroke-width="0.6" />
<polyline points="305.08,680.57 530,619.01 716,556" fill="none" stroke="#888" stroke-width="0.6" />
<polyline points="375.65,644.53 389.16,676.07" fill="none" stroke="#1a1a1a" stroke-width="0.84" />
<polyline points="646.46,568.38 657.72,580.09" fill="none" stroke="#1a1a1a" stroke-width="0.84" />
<polyline points="590.15,583.39 590.15,574.08" fill="none" stroke="#1a1a1a" stroke-width="0.84" />
<polyline points="274.29,655.05 280.3,664.35" fill="none" stroke="#1a1a1a" stroke-width="0.72" />
<polyline points="279.55,653.84 285.56,663.15" fill="none" stroke="#1a1a1a" stroke-width="0.72" />
<polyline points="284.8,652.64 290.81,661.95" fill="none" stroke="#1a1a1a" stroke-width="0.72" />
<polyline points="290.06,651.44 296.07,660.75" fill="none" stroke="#1a1a1a" stroke-width="0.72" />
<polyline points="274.29,655.05 290.06,651.29 296.07,661.05 280.3,664.8 274.29,655.05" fill="none" stroke="#1a1a1a" stroke-width="0.84" />
<polyline points="668.23,517.78 732.04,564.77" fill="none" stroke="#1a1a1a" stroke-width="0.96" />
<polyline points="656.22,507.27 668.23,517.78" fill="none" stroke="#1a1a1a" stroke-width="0.84" />
<polyline points="668.23,520.03 729.79,565.83 687.75,577.84" fill="none" stroke="#555" stroke-width="0.6" />
<polyline points="653.96,549.76 686.25,577.84" fill="none" stroke="#1a1a1a" stroke-width="0.84" />
<polyline points="655.77,549.16 688.05,577.09" fill="none" stroke="#1a1a1a" stroke-width="0.84" />
<polyline points="657.57,548.56 689.85,576.34" fill="none" stroke="#1a1a1a" stroke-width="0.84" />
<polyline points="659.37,547.96 691.65,575.59" fill="none" stroke="#1a1a1a" stroke-width="0.84" />
<polyline points="661.17,547.36 693.45,574.83" fill="none" stroke="#1a1a1a" stroke-width="0.84" />
<polygon points="491.05,592.28 545.11,565.26 560.12,578.02 575.89,595.29 522.58,626.82 507.57,615.56" fill="none" stroke="#1c1c1c" stroke-width="1.08" />
<polyline points="491.05,592.28 522.58,626.82" fill="none" stroke="#1a1a1a" stroke-width="1.2" />
<polyline points="492.77,591.42 524.276,625.817" fill="none" stroke="#1a1a1a" stroke-width="0.72" />
<polyline points="496.911,593.351 507.615,604.999" fill="none" stroke="#333" stroke-width="1.92" />
<polyline points="497.54,594.036 506.985,604.314" fill="none" stroke="#fff" stroke-width="0.72" />
<polyline points="495.965,589.824 527.426,623.954" fill="none" stroke="#1a1a1a" stroke-width="1.2" />
<polyline points="497.685,588.964 529.123,622.95" fill="none" stroke="#1a1a1a" stroke-width="0.72" />
<polyline points="501.82,590.861 512.501,602.371" fill="none" stroke="#333" stroke-width="1.92" />
<polyline points="502.448,591.538 511.873,601.694" fill="none" stroke="#fff" stroke-width="0.72" />
<polyline points="500.879,587.367 532.273,621.087" fill="none" stroke="#1a1a1a" stroke-width="1.2" />
<polyline points="502.599,586.508 533.969,620.084" fill="none" stroke="#1a1a1a" stroke-width="0.72" />
<polyline points="506.729,588.372 517.387,599.742" fill="none" stroke="#333" stroke-width="1.92" />
<polyline points="507.356,589.041 516.76,599.073" fill="none" stroke="#fff" stroke-width="0.72" />
<polyline points="505.794,584.911 537.119,618.221" fill="none" stroke="#1a1a1a" stroke-width="1.2" />
<polyline points="507.514,584.051 538.815,617.218" fill="none" stroke="#1a1a1a" stroke-width="0.72" />
<polyline points="511.638,585.883 522.273,597.114" fill="none" stroke="#333" stroke-width="1.92" />
<polyline points="512.263,586.544 521.647,596.453" fill="none" stroke="#fff" stroke-width="0.72" />
<polyline points="510.708,582.455 541.965,615.355" fill="none" stroke="#1a1a1a" stroke-width="1.2" />
<polyline points="512.428,581.595 543.662,614.351" fill="none" stroke="#1a1a1a" stroke-width="0.72" />
<polyline points="516.547,583.394 527.159,594.485" fill="none" stroke="#333" stroke-width="1.92" />
<polyline points="517.171,584.046 526.534,593.833" fill="none" stroke="#fff" stroke-width="0.72" />
<polyline points="515.623,579.998 546.812,612.488" fill="none" stroke="#1a1a1a" stroke-width="1.2" />
<polyline points="517.343,579.138 548.508,611.485" fill="none" stroke="#1a1a1a" stroke-width="0.72" />
<polyline points="521.456,580.905 532.045,591.857" fill="none" stroke="#333" stroke-width="1.92" />
<polyline points="522.079,581.549 531.422,591.212" fill="none" stroke="#fff" stroke-width="0.72" />
<polyline points="520.537,577.542 551.658,609.622" fill="none" stroke="#1a1a1a" stroke-width="1.2" />
<polyline points="522.257,576.682 553.354,608.619" fill="none" stroke="#1a1a1a" stroke-width="0.72" />
<polyline points="526.365,578.416 536.93,589.228" fill="none" stroke="#333" stroke-width="1.92" />
<polyline points="526.987,579.052 536.309,588.592" fill="none" stroke="#fff" stroke-width="0.72" />
<polyline points="525.452,575.085 556.505,606.755" fill="none" stroke="#1a1a1a" stroke-width="1.2" />
<polyline points="527.172,574.226 558.201,605.752" fill="none" stroke="#1a1a1a" stroke-width="0.72" />
<polyline points="531.274,575.926 541.816,586.599" fill="none" stroke="#333" stroke-width="1.92" />
<polyline points="531.894,576.554 541.196,585.972" fill="none" stroke="#fff" stroke-width="0.72" />
<polyline points="530.366,572.629 561.351,603.889" fill="none" stroke="#1a1a1a" stroke-width="1.2" />
<polyline points="532.086,571.769 563.047,602.886" fill="none" stroke="#1a1a1a" stroke-width="0.72" />
<polyline points="536.183,573.437 546.702,583.971" fill="none" stroke="#333" stroke-width="1.92" />
<polyline points="536.802,574.057 546.084,583.351" fill="none" stroke="#fff" stroke-width="0.72" />
<polyline points="535.281,570.173 566.197,601.023" fill="none" stroke="#1a1a1a" stroke-width="1.2" />
<polyline points="537.001,569.313 567.894,600.019" fill="none" stroke="#1a1a1a" stroke-width="0.72" />
<polyline points="541.092,570.948 551.588,581.342" fill="none" stroke="#333" stroke-width="1.92" />
<polyline points="541.71,571.56 550.971,580.731" fill="none" stroke="#fff" stroke-width="0.72" />
<polyline points="540.195,567.716 571.044,598.156" fill="none" stroke="#1a1a1a" stroke-width="1.2" />
<polyline points="541.916,566.857 572.74,597.153" fill="none" stroke="#1a1a1a" stroke-width="0.72" />
<polyline points="546.001,568.459 556.474,578.714" fill="none" stroke="#333" stroke-width="1.92" />
<polyline points="546.618,569.062 555.858,578.111" fill="none" stroke="#fff" stroke-width="0.72" />
<polyline points="545.11,565.26 575.89,595.29" fill="none" stroke="#1a1a1a" stroke-width="1.2" />
<polyline points="505.239,607.823 558.961,578.774" fill="none" stroke="#1a1a1a" stroke-width="0.84" />
<polyline points="506.815,609.55 560.5,580.275" fill="none" stroke="#1a1a1a" stroke-width="0.84" />
<polyline points="507.57,615.56 564.62,582.52" fill="none" stroke="#1a1a1a" stroke-width="1.8" />
<polyline points="500.06,605.05 558.62,576.52" fill="none" stroke="#1a1a1a" stroke-width="0.84" />
<polyline points="515.08,621.56 570.63,590.03" fill="none" stroke="#1a1a1a" stroke-width="0.84" />
<polygon points="479.34,597.54 482.79,595.29 494.35,607.75 490.3,611.05" fill="none" stroke="#1c1c1c" stroke-width="1.08" />
<polygon points="481.59,598.44 483.54,597.24 492.25,607.3 490,608.8" fill="none" stroke="#1c1c1c" stroke-width="0.72" />
<polyline points="510.57,608.05 512.07,638.08" fill="none" stroke="#1a1a1a" stroke-width="1.08" />
<polyline points="572.88,597.54 573.63,624.56" fill="none" stroke="#1a1a1a" stroke-width="1.08" />
<polyline points="542.85,602.04 543.6,632.07" fill="none" stroke="#1a1a1a" stroke-width="0.84" />
<path d="M295.0,590.0 L394.1,571.5 A2.3,2.3 0 0 1 393.2,567.0 L294.1,585.5 A2.3,2.3 0 0 1 295.0,590.0 Z" fill="none" stroke="#1c1c1c" stroke-width="0.7"/>
<path d="M562.3,529.1 L613.4,513.3 A2.4,2.4 0 0 1 612.0,508.7 L560.9,524.5 A2.4,2.4 0 0 1 562.3,529.1 Z" fill="none" stroke="#1c1c1c" stroke-width="0.7"/>
<polyline points="308.08,583.54 395.17,567.03" fill="none" stroke="#1a1a1a" stroke-width="0.84" />
<polyline points="308.08,591.8 365.14,580.54" fill="none" stroke="#1a1a1a" stroke-width="0.84" />
<path d="M267.0,601.1l0.6,7.0M272.8,612.6l0.6,7.0M279.5,626.1l0.6,10.0M287.0,641.1l0.6,10.0M295.0,657.1l0.6,10.0M303.1,673.4l0.6,10.0M300.5,592.7l0.6,7.0M306.7,604.1l0.6,7.0M314.0,617.3l0.6,10.0M322.1,632.0l0.6,10.0M330.7,647.7l0.6,10.0M339.4,663.6l0.6,10.0M334.1,584.4l0.6,7.0M340.8,595.5l0.6,7.0M348.6,608.5l0.6,10.0M357.3,622.9l0.6,10.0M366.5,638.3l0.6,10.0M375.9,653.9l0.6,10.0M366.3,576.5l0.6,7.0M373.4,587.3l0.6,7.0M381.7,600.0l0.6,10.0M390.9,614.2l0.6,10.0M400.8,629.3l0.6,10.0M410.8,644.5l0.6,10.0M397.5,568.7l0.6,7.0M405.1,579.4l0.6,7.0M413.9,591.8l0.6,10.0M423.7,605.7l0.6,10.0M434.2,620.5l0.6,10.0M444.8,635.4l0.6,10.0M428.2,561.2l0.6,7.0M436.2,571.6l0.6,7.0M445.5,583.8l0.6,10.0M455.9,597.3l0.6,10.0M467.0,611.8l0.6,10.0M478.2,626.4l0.6,10.0M457.2,554.0l0.6,7.0M465.6,564.2l0.6,7.0M475.5,576.1l0.6,10.0M486.5,589.4l0.6,10.0M498.2,603.5l0.6,10.0M510.0,617.8l0.6,10.0M486.2,546.8l0.6,7.0M495.1,556.8l0.6,7.0M505.5,568.5l0.6,10.0M517.0,581.4l0.6,10.0M529.4,595.3l0.6,10.0M541.8,609.3l0.6,10.0M514.4,539.9l0.6,7.0M523.7,549.7l0.6,7.0M534.6,561.0l0.6,10.0M546.7,573.7l0.6,10.0M559.7,587.3l0.6,10.0M572.8,600.9l0.6,10.0M541.8,533.2l0.6,7.0M551.6,542.7l0.6,7.0M563.0,553.8l0.6,10.0M575.7,566.2l0.6,10.0M589.3,579.4l0.6,10.0M603.0,592.8l0.6,10.0M568.0,526.7l0.6,7.0M578.3,536.0l0.6,7.0M590.2,546.9l0.6,10.0M603.5,558.9l0.6,10.0M617.7,571.9l0.6,10.0M632.0,584.9l0.6,10.0M594.8,520.1l0.6,7.0M605.4,529.2l0.6,7.0M617.9,539.8l0.6,10.0M631.7,551.6l0.6,10.0M646.6,564.2l0.6,10.0M661.5,576.9l0.6,10.0M619.3,514.1l0.6,7.0M630.4,523.0l0.6,7.0M643.4,533.3l0.6,10.0M657.8,544.8l0.6,10.0M673.3,557.1l0.6,10.0M688.8,569.5l0.6,10.0M669.0,526.8l0.6,10.0M684.0,538.0l0.6,10.0M700.0,550.0l0.6,10.0M716.2,562.1l0.6,10.0" stroke="#c4c4c4" stroke-width="1.3" fill="none"/>
<path d="M267.0,592.4v8.4M272.8,603.9v8.4M279.5,617.4v8.4M287.0,632.4v8.4M295.0,648.4v8.4M303.1,664.6v8.4M300.5,584.0v8.4M306.7,595.4v8.4M314.0,608.6v8.4M322.1,623.3v8.4M330.7,639.0v8.4M339.4,654.9v8.4M334.1,575.7v8.4M340.8,586.8v8.4M348.6,599.8v8.4M357.3,614.2v8.4M366.5,629.6v8.4M375.9,645.2v8.4M366.3,567.8v8.4M373.4,578.6v8.4M381.7,591.3v8.4M390.9,605.5v8.4M400.8,620.6v8.4M410.8,635.8v8.4M397.5,560.0v8.4M405.1,570.7v8.4M413.9,583.1v8.4M423.7,597.0v8.4M434.2,611.8v8.4M444.8,626.7v8.4M428.2,552.5v8.4M436.2,562.9v8.4M445.5,575.1v8.4M455.9,588.6v8.4M467.0,603.1v8.4M478.2,617.7v8.4M457.2,545.3v8.4M465.6,555.5v8.4M475.5,567.4v8.4M486.5,580.7v8.4M498.2,594.8v8.4M510.0,609.1v8.4M486.2,538.1v8.4M495.1,548.1v8.4M505.5,559.8v8.4M517.0,572.7v8.4M529.4,586.6v8.4M541.8,600.6v8.4M514.4,531.2v8.4M523.7,541.0v8.4M534.6,552.3v8.4M546.7,565.0v8.4M559.7,578.6v8.4M572.8,592.2v8.4M541.8,524.5v8.4M551.6,534.0v8.4M563.0,545.1v8.4M575.7,557.5v8.4M589.3,570.7v8.4M603.0,584.1v8.4M568.0,518.0v8.4M578.3,527.3v8.4M590.2,538.2v8.4M603.5,550.2v8.4M617.7,563.2v8.4M632.0,576.2v8.4M594.8,511.4v8.4M605.4,520.5v8.4M617.9,531.1v8.4M631.7,542.9v8.4M646.6,555.5v8.4M661.5,568.2v8.4M619.3,505.4v8.4M630.4,514.3v8.4M643.4,524.6v8.4M657.8,536.1v8.4M673.3,548.4v8.4M688.8,560.8v8.4M669.0,518.1v8.4M684.0,529.3v8.4M700.0,541.3v8.4M716.2,553.4v8.4" stroke="#262626" stroke-width="1.6" stroke-linecap="round" fill="none"/>
<polyline points="428.32,501.23 510.15,485.02" fill="none" stroke="#222" stroke-width="0.72" />
<polyline points="432.07,530.06 513.15,512.04" fill="none" stroke="#222" stroke-width="0.72" />
<polyline points="435.08,549.58 514.65,532.31 522.16,530.81" fill="none" stroke="#222" stroke-width="0.72" />
<polyline points="435.08,560.09 495.14,546.88" fill="none" stroke="#222" stroke-width="0.72" />
<polyline points="550.69,502.28 621.26,488.02 660,480.51" fill="none" stroke="#222" stroke-width="0.72" />
<polyline points="550.69,522.55 660,499.28" fill="none" stroke="#222" stroke-width="0.72" />
<polyline points="360,551.08 396.04,542.37" fill="none" stroke="#222" stroke-width="0.72" />
<polyline points="360,566.1 397.54,557.84" fill="none" stroke="#222" stroke-width="0.72" />
<polyline points="360,581.11 396.04,573.6" fill="none" stroke="#222" stroke-width="0.72" />
<polyline points="394.53,511.29 429.07,504.53" fill="none" stroke="#222" stroke-width="0.72" />
<polyline points="510.15,485.02 549.19,477.21" fill="none" stroke="#222" stroke-width="0.72" />
<polyline points="185,555 240,543.7" fill="none" stroke="#1a1a1a" stroke-width="0.84" />
<polyline points="193.7,586.2 247.5,575" fill="none" stroke="#1a1a1a" stroke-width="0.84" />
<path d="M229,606 C229.33,605.00 229.67,601.50 231,600 C232.33,598.50 233.83,597.67 237,597 C240.17,596.33 247.83,596.17 250,596" fill="none" stroke="#1a1a1a" stroke-width="0.84"/></g>
<g><polygon points="221.5,140 213.2,154.3 229.8,153.8" fill="#ee1c25" />
<polygon points="380.2,130.6 372.4,144.6 388,144.1" fill="#ee1c25" />
<polygon points="513.8,120 505.5,134.3 522.1,133.8" fill="#ee1c25" />
<polygon points="637.7,113.7 629.4,128.2 646,127.7" fill="#ee1c25" />
<polyline points="256.58,207.55 265.59,270.62" fill="none" stroke="#111" stroke-width="1.2" />
<polyline points="439.01,188.78 444.26,253.35 450.27,257.1 480,266.11" fill="none" stroke="#111" stroke-width="1.32" />
<polygon points="444.26,242.84 447.956,250.68 440.564,250.68" fill="#111" />
<polyline points="627.18,172.28 629.43,230.09 630.93,233.84 619.67,242.85 612.16,242.1 604.65,251.11" fill="none" stroke="#111" stroke-width="1.2" />
<polygon points="629.43,222.88 633.462,230.72 625.398,230.72" fill="#111" />
<polyline points="260.57,240 264.32,274.53 274.08,281.29 295.11,283.54 304.11,288.05" fill="none" stroke="#111" stroke-width="1.44" />
<polygon points="265.53,265.53 269.062,273.498 261.451,273.232" fill="#111" />
<polyline points="268.08,295.56 278.59,362.97" fill="none" stroke="#111" stroke-width="1.2" />
<polyline points="443.75,249.01 445.26,254.26 454.26,258.02 467.78,261.77 478.29,267.03" fill="none" stroke="#111" stroke-width="1.44" />
<polyline points="629.43,229.26 630.93,233.77 621.17,241.28 612.16,242.03 603.15,250.29" fill="none" stroke="#111" stroke-width="1.32" />
<polyline points="592.64,251.04 594.14,318.6 594.89,322.36 585.14,333.62 577.63,333.62 570.12,337.97" fill="none" stroke="#111" stroke-width="1.32" />
<polygon points="594.14,311.85 598.172,319.69 590.108,319.69" fill="#111" />
<polyline points="271.32,320 275.83,371.05 284.08,377.06 305.11,378.56 315.62,383.06" fill="none" stroke="#111" stroke-width="1.44" />
<polygon points="277.03,357.54 280.422,365.569 272.817,365.17" fill="#111" />
<polyline points="279.58,389.07 288.59,442.97" fill="none" stroke="#111" stroke-width="1.2" />
<polyline points="594.89,317.03 595.65,322.28 586.64,332.04 577.63,332.79 568.62,341.05" fill="none" stroke="#111" stroke-width="1.32" />
<polygon points="594.89,311.02 598.922,318.86 590.858,318.86" fill="#111" />
<polyline points="514.56,348.56 519.07,412.97" fill="none" stroke="#111" stroke-width="1.32" />
<polyline points="286.07,420 290.57,477.06 296.58,483.06 313.09,486.07 331.11,490.57" fill="none" stroke="#111" stroke-width="1.44" />
<polygon points="292.52,468.05 295.772,476.137 288.174,475.605" fill="#111" />
<polyline points="294.32,492.07 301.08,542.97" fill="none" stroke="#111" stroke-width="1.2" />
<polyline points="460.24,459.04 467.75,542.97" fill="none" stroke="#111" stroke-width="1.2" />
<polyline points="517.57,390 519.82,433.54 510.06,444.05 502.55,445.56 493.54,453.81" fill="none" stroke="#111" stroke-width="1.32" />
<polygon points="520.12,423.33 524.152,431.17 516.088,431.17" fill="#111" />
<polyline points="461.26,460.57 465.02,512.97" fill="none" stroke="#111" stroke-width="1.2" />
<polyline points="562.61,512.97 562.61,484.59 713.51,448.56 688.74,430.24" fill="none" stroke="#111" stroke-width="1.68" />
<polygon points="686.04,427.99 695.757,429.983 690.634,436.781" fill="#111" />
<polygon points="596.85,476.64 589.077,482.802 587.162,474.509" fill="#111" />
<polygon points="562.61,494.8 566.642,503.2 558.578,503.2" fill="#111" />
<polyline points="300.57,540 306.88,600.06 314.08,604.86 335.11,606.07 344.11,608.32 656.22,522.28" fill="none" stroke="#111" stroke-width="1.32" />
<polygon points="307.03,584.74 310.466,593.401 302.422,592.838" fill="#111" />
<polygon points="397.12,592.85 404.731,586.636 406.818,594.426" fill="#111" />
<polygon points="607.72,538.35 600.002,544.43 598.051,536.605" fill="#111" />
<polyline points="426.7,586.55 473.24,647.36" fill="none" stroke="#111" stroke-width="1.56" />
<polygon points="436.91,599.76 445.522,604.489 439.082,609.342" fill="#111" />
<polyline points="464.23,631.59 492.01,622.28" fill="none" stroke="#111" stroke-width="1.56" />
<polygon points="496.97,620.63 489.884,627.571 487.113,619.523" fill="#111" />
<polyline points="467.99,554.26 468.74,564.02 459.73,570.03 452.22,571.53 444.71,579.04" fill="none" stroke="#111" stroke-width="1.32" />
<polygon points="467.99,549.31 472.022,557.71 463.958,557.71" fill="#111" />
<polyline points="463.27,490 467.78,556.07 468.53,563.57 459.52,569.58 452.01,571.83 444.5,578.59" fill="none" stroke="#111" stroke-width="1.32" />
<polygon points="467.78,548.86 471.516,557.396 463.457,557.114" fill="#111" />
<polyline points="563.12,502.01 564.62,581.59 509.07,617.81" fill="none" stroke="#111" stroke-width="1.56" />
<polygon points="563.12,496.31 567.376,504.71 558.864,504.71" fill="#111" />
<polyline points="593.15,605.05 601.86,611.8" fill="none" stroke="#111" stroke-width="1.08" />
<polygon points="600.66,607.45 605.992,614.471 598.051,615.871" fill="#111" />
<polyline points="296.07,705.05 530,637.33 725,566" fill="none" stroke="#111" stroke-width="1.44" />
<polygon points="289.76,707.3 296.198,700.428 299.109,708.426" fill="#111" /></g>
</g>
<g id="R" transform="translate(915.5,2.5)">
<g><polyline points="175.3,113.3 252,612" fill="none" stroke="#2a2a2a" stroke-width="0.84" />
<polyline points="179.8,117.5 256,610" fill="none" stroke="#2a2a2a" stroke-width="0.84" />
<polyline points="240.5,130 300,601" fill="none" stroke="#2a2a2a" stroke-width="0.84" />
<polyline points="246,136 305,600" fill="none" stroke="#2a2a2a" stroke-width="0.84" />
<polyline points="350.5,120 391,580" fill="none" stroke="#2a2a2a" stroke-width="0.84" />
<polyline points="357.5,120 397,578" fill="none" stroke="#2a2a2a" stroke-width="0.84" />
<polyline points="387.5,112 422,573" fill="none" stroke="#2a2a2a" stroke-width="0.84" />
<polyline points="395,112 429,571" fill="none" stroke="#2a2a2a" stroke-width="0.84" />
<polyline points="485,107 510,550" fill="none" stroke="#2a2a2a" stroke-width="0.84" />
<polyline points="495,107 518,548" fill="none" stroke="#2a2a2a" stroke-width="0.84" />
<polyline points="519,105 536,545" fill="none" stroke="#2a2a2a" stroke-width="0.84" />
<polyline points="529,105 545,543" fill="none" stroke="#2a2a2a" stroke-width="0.84" />
<polyline points="606,107 625,526" fill="none" stroke="#2a2a2a" stroke-width="0.84" />
<polyline points="617.5,107 634,524" fill="none" stroke="#2a2a2a" stroke-width="0.84" />
<polyline points="649.5,104 659,519" fill="none" stroke="#2a2a2a" stroke-width="0.84" />
<polyline points="662,95 669,517" fill="none" stroke="#2a2a2a" stroke-width="0.84" /></g>
<g><polygon points="201.02,215.81 224.29,241.34 290.36,233.08 264.83,210.26" fill="#fff" opacity="0.55" />
<polygon points="299.37,206.8 330.9,230.08 730.78,187.75 676.73,170.78 658.7,168.5 213.8,207.6" fill="#fff" opacity="0.55" />
<polygon points="214.02,304.56 238.05,336.1 729.28,265 678.23,244.28 652.7,241 226,293.3" fill="#fff" opacity="0.55" />
<polygon points="228.53,402.58 253.3,440.87 730.03,354.26 678.23,326.79 652.7,323.8 239.8,389.8" fill="#fff" opacity="0.55" />
<polygon points="245.53,513.09 272.5,560 403.93,527.81 367.9,483.06 256.04,497.33" fill="#fff" opacity="0.55" />
<polygon points="459.01,458.32 478.53,478.59 540.09,464.32 570.12,490.6 732.28,453.81 681.98,420.03 657.96,415.83" fill="#fff" opacity="0.55" />
<polygon points="185.77,120.84 209.04,137.81 278.41,132.55 254.83,119.34" fill="#fff" opacity="0.55" />
<polygon points="290,116.8 318.6,130.3 588.8,112.5 556,101.5" fill="#fff" opacity="0.55" />
<polygon points="590,100.5 615,110 732.5,104.2 683.7,92 661,91.5" fill="#fff" opacity="0.55" /></g>
<g><polygon points="200.52,215.31 253.82,211.26 278.6,232.58 224.55,240.84" fill="#3f6a8c" />
<polygon points="254.58,198.34 355.93,189.79 364.94,194.29 261.33,202.85" fill="#3f6a8c" />
<polygon points="401.72,185.28 489.29,178.09 496.05,181.24 404.73,189.79" fill="#3f6a8c" />
<polygon points="532.83,174.33 604.91,166.83 616.17,170.28 538.09,178.24" fill="#3f6a8c" />
<polygon points="310.13,206.3 342.41,203.3 358.93,214.56 327.4,217.56" fill="#3f6a8c" />
<polygon points="374.7,199.55 404.73,196.84 423.49,207.05 394.97,210.36 384.45,205.85" fill="#3f6a8c" />
<polygon points="414.48,195.79 455.51,194.3 467.52,202.56 434.76,206.3" fill="#3f6a8c" />
<polygon points="321.39,219.82 574.12,193.55 613.91,191.3 674.73,184.55 730.28,186.35 730.28,187.85 331.15,228.37" fill="#3f6a8c" />
<polygon points="523.07,186.35 597.4,178.84 622.17,187.85 613.16,191.3 604.91,190.25 588.39,185.3 559.11,188.3 571.12,193.55 545.6,195.36" fill="#3f6a8c" />
<polygon points="643.94,174.48 676.23,170.58 730.28,186.35 671.72,184.55" fill="#3f6a8c" />
<polygon points="342.41,202.85 374.7,199.55 384.45,205.85 352.17,208.85" fill="#7ccd74" />
<polygon points="574.12,192.8 604.91,190.25 620.67,196.26 591.39,199.56" fill="#7ccd74" />
<polygon points="213.52,304.06 264.58,298.06 290.1,325.84 238.3,335.6" fill="#3f6a8c" />
<polygon points="265.33,282.59 366.68,270.28 373.43,275.54 266.08,289.05" fill="#3f6a8c" />
<polygon points="407.97,265.03 496.05,253.84 502.8,258.34 411.72,270.28" fill="#3f6a8c" />
<polygon points="536.59,249.33 608.66,239.73 618.42,243.78 538.09,253.84" fill="#3f6a8c" />
<polygon points="320.88,291.3 409.47,279.29 431.24,292.8 402.71,297.31 392.2,290.55 359.17,294.76 368.18,301.81 338.15,305.57" fill="#3f6a8c" />
<polygon points="420.73,277.79 454,273.06 476.53,288.07 441.75,292.05" fill="#3f6a8c" />
<polygon points="331.39,310.37 548.6,278.31 626.68,267.05 677.73,262.55 730.58,264.8 730.58,266.3 339.65,319.38" fill="#3f6a8c" />
<polygon points="526.08,264.8 599.65,254.74 626.68,266.3 604.91,271.26 590.64,264.35 564.36,267.8 576.38,275.76 548.6,277.56" fill="#3f6a8c" />
<polygon points="644.7,249.79 677.73,244.08 730.58,264.8 677.73,262.85" fill="#3f6a8c" />
<polygon points="293.1,313.82 328.39,310.07 339.65,319.08 301.36,324.79" fill="#7ccd74" />
<polygon points="228.78,402.08 277.58,394.58 296.35,418.6 380.43,404.33 393.19,414.39 253.55,440.82" fill="#f0287c" />
<polygon points="277.58,373.1 373.67,359.59 381.93,365 278.33,381.81" fill="#3f6a8c" />
<polygon points="417.22,353.58 502.05,339.8 508.81,344.76 421.42,359.74" fill="#3f6a8c" />
<polygon points="540.34,333.34 613.91,321.33 623.67,326.29 541.84,339.35" fill="#3f6a8c" />
<polygon points="331.63,385.57 417.97,371.3 438.99,388.27 412.71,394.58 402.2,385.27 369.92,391.57 380.43,401.78 349.65,405.39" fill="#3f6a8c" />
<polygon points="429.23,370.55 463.76,364.85 484.03,381.81 449.5,387.82" fill="#3f6a8c" />
<polygon points="380.43,404.33 545.6,372.08 674.73,349.26 712.26,342.8 730.58,353.31 730.58,354.36 393.19,414.39" fill="#3f6a8c" />
<polygon points="531.33,353.61 604.91,341.3 630.43,354.36 608.66,359.77 594.39,352.56 568.87,357.82 580.13,367.13 554.61,369.08" fill="#3f6a8c" />
<polygon points="646.2,332.59 678.48,327.04 711.51,342.8 673.22,348.06" fill="#3f6a8c" />
<polygon points="463.01,364.58 520.82,354.36 546.35,371.33 483.28,381.39" fill="#7ccd74" />
<polygon points="245.78,512.59 293.07,503.13 311.09,531.36 363.64,520.4 373.4,534.5 272.5,560" fill="#3f6a8c" />
<polygon points="344.12,491.57 368.15,486.32 403.88,526.86 373.4,533.91" fill="#a8604d" />
<polygon points="302.08,500.58 335.12,494.12 342.62,506.59 310.34,513.34" fill="#7ccd74" />
<polygon points="292.32,478.36 384.67,459.59 393.37,466.35 303.58,485.87 293.07,486.32" fill="#3f6a8c" />
<polygon points="425.96,451.33 508.81,435.3 515.57,441.75 426.41,460.04" fill="#3f6a8c" />
<polygon points="545.6,426.59 618.42,412.32 626.98,418.33 546.35,434.85" fill="#3f6a8c" />
<polygon points="468.27,466.08 560.61,447.31 601.9,481.09 571.42,488.6 540.34,464.58 478.78,476.59" fill="#ff6633" />
<polygon points="560.61,447.31 682.23,420.28 732.83,452.26 628.93,473.13 615.42,462.02 610.91,460.07 599.65,451.06 572.92,457.82" fill="#d4a728" />
<polygon points="616.17,434.09 640.19,429.74 652.2,439.05 628.93,443.55" fill="#7ccd74" />
<polygon points="628.93,443.55 652.2,439.05 668.72,448.81 643.19,454.06" fill="#fff" />
<polygon points="280.55,630.64 384.91,605.12 393.16,618.63 289.56,646.86" fill="#f0287c" />
<polygon points="384.91,605.12 413.43,595.81 424.7,610.07 393.16,618.63" fill="#ff6633" />
<polygon points="326.35,637.1 357.88,629.14 368.39,643.1 334.61,652.41" fill="#7ccd74" />
<polygon points="393.91,619.08 425.45,611.27 445.72,637.85 413.43,647.91" fill="#7ccd74" />
<polygon points="307.58,594.61 396.17,573.58 405.18,582.29 308.33,605.12" fill="#3f6a8c" />
<polygon points="435.96,563.07 513.82,543.55 521.78,551.36 436.71,573.73" fill="#3f6a8c" />
<polygon points="551.36,534.09 620.43,517.58 629.89,525.09 552.11,543.1" fill="#3f6a8c" />
<polygon points="447.22,587.85 668.48,530.34 683.49,541.6 561.12,574.79 489.05,594.61 460.52,601.36" fill="#3f6a8c" />
<polygon points="576.89,571.63 604.67,565.33 616.68,576.29 589.65,582.89" fill="#7ccd74" />
<polygon points="633.19,556.62 654.21,549.26 664.73,562.32 645.96,567.88" fill="#7ccd74" />
<polygon points="491.05,592.28 545.11,565.26 560.12,578.02 575.89,595.29 522.58,626.82 507.57,615.56" fill="url(#stg)"/>
<polygon points="479.34,597.54 482.79,595.29 494.35,607.75 490.3,611.05" fill="#46535f" /></g>
<g stroke-linejoin="round"><path d="M286.6,788.3 C300.50,783.75 342.77,769.88 370,761 C397.23,752.12 428.33,742.21 450,735 C471.67,727.79 479.17,725.87 500,717.75 C520.83,709.63 550.00,696.84 575,686.3 C600.00,675.76 629.17,663.25 650,654.5 C670.83,645.75 667.67,647.38 700,633.8 C732.33,620.22 820.00,583.13 844,573" fill="none" stroke="#1a1a1a" stroke-width="1.5"/>
<path d="M172.8,788.3 C172.83,783.58 172.92,768.05 173,760 C173.08,751.95 172.72,744.42 173.3,740 C173.88,735.58 174.13,735.08 176.5,733.5 C178.87,731.92 181.92,730.25 187.5,730.5 C193.08,730.75 198.75,733.12 210,735 C221.25,736.88 240.00,740.42 255,741.8 C270.00,743.18 285.00,743.93 300,743.3 C315.00,742.67 327.50,741.63 345,738 C362.50,734.37 387.50,727.00 405,721.5 C422.50,716.00 425.83,713.55 450,705 C474.17,696.45 508.33,684.70 550,670.2 C591.67,655.70 652.00,634.90 700,618 C748.00,601.10 815.00,577.00 838,568.8" fill="none" stroke="#1a1a1a" stroke-width="1.2"/>
<path d="M232.5,614 C234.25,618.33 238.75,630.33 243,640 C247.25,649.67 253.73,663.33 258,672 C262.27,680.67 265.33,685.25 268.6,692 C271.87,698.75 274.37,707.75 277.6,712.5 C280.83,717.25 284.27,718.55 288,720.5 C291.73,722.45 295.50,723.40 300,724.2 C304.50,725.00 307.50,725.62 315,725.3 C322.50,724.98 332.50,724.93 345,722.3 C357.50,719.67 372.50,715.00 390,709.5 C407.50,704.00 423.33,698.85 450,689.3 C476.67,679.75 508.33,667.08 550,652.2 C591.67,637.32 652.67,616.20 700,600 C747.33,583.80 811.67,562.50 834,555" fill="none" stroke="#1a1a1a" stroke-width="1.2"/>
<path d="M190,626 C189.92,620.92 190.75,618.33 192,616 C193.25,613.67 194.50,612.92 197.5,612 C200.50,611.08 206.75,609.50 210,610.5 C213.25,611.50 215.75,615.42 217,618 C218.25,620.58 218.17,623.67 217.5,626 C216.83,628.33 215.25,630.33 213,632 C210.75,633.67 206.00,634.25 204,636 C202.00,637.75 200.67,639.33 201,642.5 C201.33,645.67 204.71,651.42 206,655 C207.29,658.58 207.67,661.92 208.75,664 C209.83,666.08 210.29,667.17 212.5,667.5 C214.71,667.83 219.08,666.58 222,666 C224.92,665.42 227.83,663.92 230,664 C232.17,664.08 233.33,664.17 235,666.5 C236.67,668.83 238.17,674.08 240,678 C241.83,681.92 243.73,684.83 246,690 C248.27,695.17 252.77,704.83 253.6,709 C254.43,713.17 252.77,713.53 251,715 C249.23,716.47 246.17,717.97 243,717.8 C239.83,717.63 235.50,715.63 232,714 C228.50,712.37 225.33,710.50 222,708 C218.67,705.50 214.75,702.00 212,699 C209.25,696.00 208.00,695.17 205.5,690 C203.00,684.83 199.17,675.25 197,668 C194.83,660.75 193.67,653.50 192.5,646.5 C191.33,639.50 190.08,631.08 190,626Z" fill="none" stroke="#1a1a1a" stroke-width="1.08"/>
<polyline points="175.3,113.3 661,88.5" fill="none" stroke="#1a1a1a" stroke-width="0.96" />
<polyline points="176,116 661.5,91" fill="none" stroke="#1a1a1a" stroke-width="0.96" />
<polyline points="185.8,120.6 661,95.5" fill="none" stroke="#1a1a1a" stroke-width="0.84" />
<path d="M180.0,116.0L186.5,120.6M187.8,115.6L194.3,120.2M195.6,115.2L202.1,119.8M203.4,114.8L209.9,119.4M211.1,114.4L217.6,119.0M218.9,114.0L225.4,118.6M226.7,113.6L233.2,118.2M234.5,113.2L241.0,117.8M242.3,112.8L248.8,117.4M250.1,112.4L256.6,117.0M257.9,112.0L264.4,116.6M265.7,111.5L272.2,116.1M273.4,111.1L279.9,115.7M281.2,110.7L287.7,115.3M289.0,110.3L295.5,114.9M296.8,109.9L303.3,114.5M304.6,109.5L311.1,114.1M312.4,109.1L318.9,113.7M320.2,108.7L326.7,113.3M328.0,108.3L334.5,112.9M335.7,107.9L342.2,112.5M343.5,107.5L350.0,112.1M351.3,107.1L357.8,111.7M359.1,106.7L365.6,111.3M366.9,106.3L373.4,110.9M374.7,105.9L381.2,110.5M382.5,105.5L389.0,110.1M390.2,105.1L396.7,109.7M398.0,104.7L404.5,109.3M405.8,104.3L412.3,108.9M413.6,103.9L420.1,108.5M421.4,103.4L427.9,108.0M429.2,103.0L435.7,107.6M437.0,102.6L443.5,107.2M444.8,102.2L451.3,106.8M452.5,101.8L459.0,106.4M460.3,101.4L466.8,106.0M468.1,101.0L474.6,105.6M475.9,100.6L482.4,105.2M483.7,100.2L490.2,104.8M491.5,99.8L498.0,104.4M499.3,99.4L505.8,104.0M507.0,99.0L513.5,103.6M514.8,98.6L521.3,103.2M522.6,98.2L529.1,102.8M530.4,97.8L536.9,102.4M538.2,97.4L544.7,102.0M546.0,97.0L552.5,101.6M553.8,96.6L560.3,101.2M561.6,96.2L568.1,100.8M569.3,95.8L575.8,100.4M577.1,95.3L583.6,99.9M584.9,94.9L591.4,99.5M592.7,94.5L599.2,99.1M600.5,94.1L607.0,98.7M608.3,93.7L614.8,98.3M616.1,93.3L622.6,97.9M623.9,92.9L630.4,97.5M631.6,92.5L638.1,97.1M639.4,92.1L645.9,96.7M647.2,91.7L653.7,96.3M655.0,91.3L661.5,95.9" stroke="#222" stroke-width="0.8" fill="none"/>
<polygon points="185.77,120.84 209.04,137.81 278.41,132.55 254.83,119.34" fill="none" stroke="#1c1c1c" stroke-width="0.96" />
<polyline points="209.04,136.01 276.91,130.75" fill="none" stroke="#1a1a1a" stroke-width="0.72" />
<polygon points="290,116.8 318.6,130.3 588.8,112.5 556,101.5" fill="none" stroke="#1c1c1c" stroke-width="0.96" />
<polyline points="318.6,128.6 586,110.8" fill="none" stroke="#1a1a1a" stroke-width="0.72" />
<polygon points="329.16,113.78 350.18,123.54 386.22,119.79 363.69,110.78" fill="none" stroke="#1c1c1c" stroke-width="0.72" />
<polygon points="457,103.5 476,112.5 532,108 512,99.5" fill="none" stroke="#1c1c1c" stroke-width="0.72" />
<polygon points="590,100.5 615,110 732.5,104.2 683.7,92 661,91.5" fill="none" stroke="#1c1c1c" stroke-width="0.96" />
<polyline points="615,108.3 731,102.6" fill="none" stroke="#1a1a1a" stroke-width="0.72" />
<polygon points="622,93.5 640,100.5 668,98.5 652,92" fill="none" stroke="#1c1c1c" stroke-width="0.72" />
<polyline points="264.83,210.26 290.36,233.08 224.29,241.34 201.02,215.81 213.78,214.76 219.79,215.06" fill="none" stroke="#1a1a1a" stroke-width="0.96" />
<polyline points="224.59,239.53 289.16,231.28" fill="none" stroke="#1a1a1a" stroke-width="0.72" />
<polyline points="299.37,206.8 330.9,230.08 730.78,187.75 676.73,170.78 661.71,171.98" fill="none" stroke="#1a1a1a" stroke-width="1.02" />
<polyline points="330.15,228.27 729.28,186.25" fill="none" stroke="#1a1a1a" stroke-width="0.72" />
<polyline points="189.01,205.3 652.7,164.02 661.71,165.83 661.71,172.28" fill="none" stroke="#1a1a1a" stroke-width="0.84" />
<polyline points="190.51,207.85 652.7,167.78 661.71,168.53" fill="none" stroke="#1a1a1a" stroke-width="0.72" />
<polyline points="189.01,205.3 194.26,209.05 660.21,172.28" fill="none" stroke="#1a1a1a" stroke-width="0.72" />
<polygon points="216,210.207 367,196.936 368.8,199.936 217.8,213.207" fill="#fff" stroke="#1c1c1c" stroke-width="0.66" />
<path d="M221.6,209.7L223.4,212.7M227.2,209.2L229.0,212.2M232.8,208.7L234.6,211.7M238.4,208.2L240.2,211.2M244.0,207.7L245.8,210.7M249.6,207.3L251.4,210.3M255.1,206.8L256.9,209.8M260.7,206.3L262.5,209.3M266.3,205.8L268.1,208.8M271.9,205.3L273.7,208.3M277.5,204.8L279.3,207.8M283.1,204.3L284.9,207.3M288.7,203.8L290.5,206.8M294.3,203.3L296.1,206.3M299.9,202.8L301.7,205.8M305.5,202.3L307.3,205.3M311.1,201.9L312.9,204.9M316.7,201.4L318.5,204.4M322.3,200.9L324.1,203.9M327.9,200.4L329.7,203.4M333.4,199.9L335.2,202.9M339.0,199.4L340.8,202.4M344.6,198.9L346.4,201.9M350.2,198.4L352.0,201.4M355.8,197.9L357.6,200.9M361.4,197.4L363.2,200.4" stroke="#222" stroke-width="0.75" fill="none"/>
<polygon points="440,190.72 505,185.008 506.8,188.208 441.8,193.92" fill="#fff" stroke="#1c1c1c" stroke-width="0.66" />
<path d="M445.4,190.2L447.2,193.4M450.8,189.8L452.6,193.0M456.2,189.3L458.1,192.5M461.7,188.8L463.5,192.0M467.1,188.3L468.9,191.5M472.5,187.9L474.3,191.1M477.9,187.4L479.7,190.6M483.3,186.9L485.1,190.1M488.8,186.4L490.6,189.6M494.2,186.0L496.0,189.2M499.6,185.5L501.4,188.7" stroke="#222" stroke-width="0.75" fill="none"/>
<polygon points="540,181.532 600,176.259 601.8,178.759 541.8,184.032" fill="#fff" stroke="#1c1c1c" stroke-width="0.66" />
<path d="M545.5,181.1L547.3,183.6M550.9,180.6L552.7,183.1M556.4,180.1L558.2,182.6M561.8,179.6L563.6,182.1M567.3,179.1L569.1,181.6M572.7,178.7L574.5,181.2M578.2,178.2L580.0,180.7M583.6,177.7L585.4,180.2M589.1,177.2L590.9,179.7M594.5,176.7L596.3,179.2" stroke="#222" stroke-width="0.75" fill="none"/>
<polygon points="351.17,209.35 359.43,214.31 394.71,210.56 384.95,206.35" fill="none" stroke="#1c1c1c" stroke-width="0.72" />
<polygon points="558.86,188.8 588.14,185.8 605.41,190.75 574.62,193.75" fill="none" stroke="#1c1c1c" stroke-width="0.72" />
<polygon points="445.77,193.29 469.79,204.55 522.07,192.85 499.55,183.54" fill="none" stroke="#1c1c1c" stroke-width="0.72" />
<polygon points="612.91,179.34 637.69,187.75 660.21,185.05 636.19,176.79" fill="none" stroke="#1c1c1c" stroke-width="0.72" />
<polyline points="227.54,296.31 232.79,300.06 232.04,303.06 214.02,304.56 238.05,336.1 729.28,265 678.23,244.28 662.46,245.78" fill="none" stroke="#1a1a1a" stroke-width="1.02" />
<polyline points="216.28,304.86 239.25,334.29 727.78,263.2" fill="none" stroke="#1a1a1a" stroke-width="0.72" />
<polyline points="202.76,290.3 652.7,234.52 661.71,237.52 661.71,245.03" fill="none" stroke="#1a1a1a" stroke-width="0.84" />
<polyline points="206.52,295.86 652.7,239.02 661.71,240.23" fill="none" stroke="#1a1a1a" stroke-width="0.72" />
<polyline points="202.76,290.3 206.52,295.86 209.52,297.81" fill="none" stroke="#1a1a1a" stroke-width="0.72" />
<polygon points="228,295.455 375,277.437 376.8,281.037 229.8,299.055" fill="#fff" stroke="#1c1c1c" stroke-width="0.66" />
<path d="M233.4,294.8L235.2,298.4M238.9,294.1L240.7,297.7M244.3,293.5L246.1,297.1M249.8,292.8L251.6,296.4M255.2,292.1L257.0,295.7M260.7,291.5L262.5,295.1M266.1,290.8L267.9,294.4M271.6,290.1L273.4,293.7M277.0,289.4L278.8,293.0M282.4,288.8L284.2,292.4M287.9,288.1L289.7,291.7M293.3,287.4L295.1,291.0M298.8,286.8L300.6,290.4M304.2,286.1L306.0,289.7M309.7,285.4L311.5,289.0M315.1,284.8L316.9,288.4M320.6,284.1L322.4,287.7M326.0,283.4L327.8,287.0M331.4,282.8L333.2,286.4M336.9,282.1L338.7,285.7M342.3,281.4L344.1,285.0M347.8,280.8L349.6,284.4M353.2,280.1L355.0,283.7M358.7,279.4L360.5,283.0M364.1,278.8L365.9,282.4M369.6,278.1L371.4,281.7" stroke="#222" stroke-width="0.75" fill="none"/>
<polygon points="413,272.78 515,260.278 516.8,263.678 414.8,276.18" fill="#fff" stroke="#1c1c1c" stroke-width="0.66" />
<path d="M418.7,272.1L420.5,275.5M424.3,271.4L426.1,274.8M430.0,270.7L431.8,274.1M435.7,270.0L437.5,273.4M441.3,269.3L443.1,272.7M447.0,268.6L448.8,272.0M452.7,267.9L454.5,271.3M458.3,267.2L460.1,270.6M464.0,266.5L465.8,269.9M469.7,265.8L471.5,269.2M475.3,265.1L477.1,268.5M481.0,264.4L482.8,267.8M486.7,263.8L488.5,267.2M492.3,263.1L494.1,266.5M498.0,262.4L499.8,265.8M503.7,261.7L505.5,265.1M509.3,261.0L511.1,264.4" stroke="#222" stroke-width="0.75" fill="none"/>
<polygon points="540,257.213 600,249.859 601.8,252.259 541.8,259.613" fill="#fff" stroke="#1c1c1c" stroke-width="0.66" />
<path d="M545.5,256.5L547.3,258.9M550.9,255.9L552.7,258.3M556.4,255.2L558.2,257.6M561.8,254.5L563.6,256.9M567.3,253.9L569.1,256.3M572.7,253.2L574.5,255.6M578.2,252.5L580.0,254.9M583.6,251.9L585.4,254.3M589.1,251.2L590.9,253.6M594.5,250.5L596.3,252.9" stroke="#222" stroke-width="0.75" fill="none"/>
<polygon points="276.34,298.56 293.6,314.32 328.14,310.57 311.62,294.8" fill="none" stroke="#1c1c1c" stroke-width="0.72" />
<polygon points="358.17,295.56 367.18,301.56 402.46,297.81 392.7,291.05" fill="none" stroke="#1c1c1c" stroke-width="0.84" />
<polygon points="361.17,295.86 367.93,300.06 398.71,297.06 391.2,292.55" fill="none" stroke="#1c1c1c" stroke-width="0.6" />
<polygon points="562.61,268.3 574.62,274.31 604.65,270.56 591.14,264.55" fill="none" stroke="#1c1c1c" stroke-width="0.84" />
<polygon points="566.37,268.6 575.38,272.81 600.9,270.11 590.39,265.75" fill="none" stroke="#1c1c1c" stroke-width="0.6" />
<polygon points="452.25,274.31 475.53,288.12 540.09,279.56 515.32,266.35" fill="none" stroke="#1c1c1c" stroke-width="0.72" />
<polygon points="615.17,254.34 637.69,264.55 663.21,261.85 640.69,251.79" fill="none" stroke="#1c1c1c" stroke-width="0.72" />
<polyline points="240.54,394.32 245.05,398.08 245.8,401.08 228.53,402.58 253.3,440.87 730.03,354.26 678.23,326.79 665.47,328.29" fill="none" stroke="#1a1a1a" stroke-width="1.02" />
<polyline points="230.78,402.88 254.8,439.07 728.98,352.16" fill="none" stroke="#1a1a1a" stroke-width="0.72" />
<polyline points="218.02,386.82 652.7,316.28 663.21,319.73 663.21,326.04" fill="none" stroke="#1a1a1a" stroke-width="0.84" />
<polyline points="221.02,392.52 652.7,320.78 663.21,322.73" fill="none" stroke="#1a1a1a" stroke-width="0.72" />
<polyline points="218.02,386.82 221.02,392.52 224.77,394.77" fill="none" stroke="#1a1a1a" stroke-width="0.72" />
<polygon points="242,392.248 385,369.391 386.8,373.391 243.8,396.248" fill="#fff" stroke="#1c1c1c" stroke-width="0.66" />
<path d="M247.5,391.4L249.3,395.4M253.0,390.5L254.8,394.5M258.5,389.6L260.3,393.6M264.0,388.7L265.8,392.7M269.5,387.9L271.3,391.9M275.0,387.0L276.8,391.0M280.5,386.1L282.3,390.1M286.0,385.2L287.8,389.2M291.5,384.3L293.3,388.3M297.0,383.5L298.8,387.5M302.5,382.6L304.3,386.6M308.0,381.7L309.8,385.7M313.5,380.8L315.3,384.8M319.0,379.9L320.8,383.9M324.5,379.1L326.3,383.1M330.0,378.2L331.8,382.2M335.5,377.3L337.3,381.3M341.0,376.4L342.8,380.4M346.5,375.5L348.3,379.5M352.0,374.7L353.8,378.7M357.5,373.8L359.3,377.8M363.0,372.9L364.8,376.9M368.5,372.0L370.3,376.0M374.0,371.1L375.8,375.1M379.5,370.3L381.3,374.3" stroke="#222" stroke-width="0.75" fill="none"/>
<polygon points="422,363.476 512,349.09 513.8,352.89 423.8,367.276" fill="#fff" stroke="#1c1c1c" stroke-width="0.66" />
<path d="M427.6,362.6L429.4,366.4M433.2,361.7L435.1,365.5M438.9,360.8L440.7,364.6M444.5,359.9L446.3,363.7M450.1,359.0L451.9,362.8M455.8,358.1L457.6,361.9M461.4,357.2L463.2,361.0M467.0,356.3L468.8,360.1M472.6,355.4L474.4,359.2M478.2,354.5L480.1,358.3M483.9,353.6L485.7,357.4M489.5,352.7L491.3,356.5M495.1,351.8L496.9,355.6M500.8,350.9L502.6,354.7M506.4,350.0L508.2,353.8" stroke="#222" stroke-width="0.75" fill="none"/>
<polygon points="540,344.315 600,334.724 601.8,337.124 541.8,346.715" fill="#fff" stroke="#1c1c1c" stroke-width="0.66" />
<path d="M545.5,343.4L547.3,345.8M550.9,342.6L552.7,345.0M556.4,341.7L558.2,344.1M561.8,340.8L563.6,343.2M567.3,340.0L569.1,342.4M572.7,339.1L574.5,341.5M578.2,338.2L580.0,340.6M583.6,337.3L585.4,339.7M589.1,336.5L590.9,338.9M594.5,335.6L596.3,338.0" stroke="#222" stroke-width="0.75" fill="none"/>
<polygon points="286.34,393.57 303.6,414.59 338.89,407.39 321.62,387.87" fill="none" stroke="#1c1c1c" stroke-width="0.72" />
<polygon points="368.92,392.07 377.93,399.58 412.46,394.32 402.7,385.32" fill="none" stroke="#1c1c1c" stroke-width="0.84" />
<polygon points="371.92,392.37 378.68,397.78 408.71,393.27 401.2,387.12" fill="none" stroke="#1c1c1c" stroke-width="0.6" />
<polygon points="567.12,357.57 577.63,364.32 608.41,359.82 596.4,352.31" fill="none" stroke="#1c1c1c" stroke-width="0.84" />
<polygon points="570.87,357.87 578.38,362.52 604.65,359.07 595.65,353.81" fill="none" stroke="#1c1c1c" stroke-width="0.6" />
<polygon points="612.91,338.8 639.19,353.06 666.22,350.06 639.19,335.8" fill="none" stroke="#1c1c1c" stroke-width="0.72" />
<polyline points="256.04,501.08 261.29,506.34 262.04,510.09 245.53,513.09 272.5,560 403.93,527.81 367.9,483.06" fill="none" stroke="#1a1a1a" stroke-width="1.02" />
<polyline points="274,557.5 402.88,525.71" fill="none" stroke="#1a1a1a" stroke-width="0.72" />
<polyline points="459.01,458.32 478.53,478.59 540.09,464.32 570.12,490.6 732.28,453.81 681.98,420.03 666.22,421.53" fill="none" stroke="#1a1a1a" stroke-width="1.02" />
<polyline points="479.28,476.79 539.34,462.52" fill="none" stroke="#1a1a1a" stroke-width="0.72" />
<polyline points="570.87,488.5 731.08,451.86" fill="none" stroke="#1a1a1a" stroke-width="0.72" />
<polyline points="233.51,491.32 657.21,404.26 666.22,409.22 666.22,414.77" fill="none" stroke="#1a1a1a" stroke-width="0.84" />
<polyline points="238.02,499.28 657.21,409.52 666.22,412.52" fill="none" stroke="#1a1a1a" stroke-width="0.72" />
<polyline points="233.51,491.32 238.02,499.28 242.52,501.83" fill="none" stroke="#1a1a1a" stroke-width="0.72" />
<polygon points="301.83,501.08 335.62,494.62 352.88,518.35 317.6,525.86" fill="none" stroke="#1c1c1c" stroke-width="0.72" />
<polyline points="310.09,513.84 342.37,507.09" fill="none" stroke="#1a1a1a" stroke-width="0.72" />
<polygon points="629.43,444.05 652.7,439.55 669.22,449.31 643.69,454.56" fill="none" stroke="#1c1c1c" stroke-width="0.84" />
<polygon points="632.43,444.8 651.95,441.05 665.47,448.86 644.44,453.06" fill="none" stroke="#1c1c1c" stroke-width="0.6" />
<polygon points="571.62,456.82 584.38,468.08 612.16,460.57 599.4,451.56" fill="none" stroke="#1c1c1c" stroke-width="0.84" />
<polygon points="575.38,457.12 585.14,466.13 608.41,459.82 598.65,453.06" fill="none" stroke="#1c1c1c" stroke-width="0.6" />
<polygon points="258,499.533 456,459.383 457.8,462.583 259.8,502.733" fill="#fff" stroke="#1c1c1c" stroke-width="0.66" />
<path d="M263.5,498.4L265.3,501.6M269.0,497.3L270.8,500.5M274.5,496.2L276.3,499.4M280.0,495.1L281.8,498.3M285.5,494.0L287.3,497.2M291.0,492.8L292.8,496.0M296.5,491.7L298.3,494.9M302.0,490.6L303.8,493.8M307.5,489.5L309.3,492.7M313.0,488.4L314.8,491.6M318.5,487.3L320.3,490.5M324.0,486.1L325.8,489.3M329.5,485.0L331.3,488.2M335.0,483.9L336.8,487.1M340.5,482.8L342.3,486.0M346.0,481.7L347.8,484.9M351.5,480.6L353.3,483.8M357.0,479.5L358.8,482.7M362.5,478.3L364.3,481.5M368.0,477.2L369.8,480.4M373.5,476.1L375.3,479.3M379.0,475.0L380.8,478.2M384.5,473.9L386.3,477.1M390.0,472.8L391.8,476.0M395.5,471.7L397.3,474.9M401.0,470.5L402.8,473.7M406.5,469.4L408.3,472.6M412.0,468.3L413.8,471.5M417.5,467.2L419.3,470.4M423.0,466.1L424.8,469.3M428.5,465.0L430.3,468.2M434.0,463.8L435.8,467.0M439.5,462.7L441.3,465.9M445.0,461.6L446.8,464.8M450.5,460.5L452.3,463.7" stroke="#222" stroke-width="0.75" fill="none"/>
<polygon points="497,451.069 655,419.03 656.8,422.03 498.8,454.069" fill="#fff" stroke="#1c1c1c" stroke-width="0.66" />
<path d="M502.4,450.0L504.2,453.0M507.9,448.9L509.7,451.9M513.3,447.8L515.1,450.8M518.8,446.6L520.6,449.6M524.2,445.5L526.0,448.5M529.7,444.4L531.5,447.4M535.1,443.3L536.9,446.3M540.6,442.2L542.4,445.2M546.0,441.1L547.8,444.1M551.5,440.0L553.3,443.0M556.9,438.9L558.7,441.9M562.4,437.8L564.2,440.8M567.8,436.7L569.6,439.7M573.3,435.6L575.1,438.6M578.7,434.5L580.5,437.5M584.2,433.4L586.0,436.4M589.6,432.3L591.4,435.3M595.1,431.2L596.9,434.2M600.5,430.1L602.3,433.1M606.0,429.0L607.8,432.0M611.4,427.9L613.2,430.9M616.9,426.8L618.7,429.8M622.3,425.7L624.1,428.7M627.8,424.6L629.6,427.6M633.2,423.4L635.0,426.4M638.7,422.3L640.5,425.3M644.1,421.2L645.9,424.2M649.6,420.1L651.4,423.1" stroke="#222" stroke-width="0.75" fill="none"/>
<polygon points="326.1,637.03 357.63,628.77 368.89,643.03 335.11,652.79" fill="none" stroke="#1c1c1c" stroke-width="0.72" />
<polygon points="394.41,619.76 425.2,611.5 446.22,637.78 413.93,648.29" fill="none" stroke="#1c1c1c" stroke-width="0.72" />
<polygon points="577.39,572.13 604.41,565.83 616.43,576.79 590.15,583.39" fill="none" stroke="#1c1c1c" stroke-width="0.72" />
<polygon points="632.94,557.12 653.96,549.76 665.23,562.82 646.46,568.38" fill="none" stroke="#1c1c1c" stroke-width="0.72" />
<polyline points="249.5,610 296,705" fill="none" stroke="#1a1a1a" stroke-width="1.44" />
<polyline points="296,705 732,564.8 668.2,517.8 656.22,507.27" fill="none" stroke="#1a1a1a" stroke-width="1.2" />
<polyline points="252,612 272.8,617.3" fill="none" stroke="#1a1a1a" stroke-width="0.84" />
<polyline points="246,611.5 290.5,706.5" fill="none" stroke="#777" stroke-width="0.72" />
<polyline points="300,709 735,569" fill="none" stroke="#999" stroke-width="0.72" />
<polyline points="309,716 742,574" fill="none" stroke="#bbb" stroke-width="0.6" />
<polyline points="303,698.5 524.08,635.08 575.14,620.81 630.69,592.28 725.5,563.5" fill="none" stroke="#1a1a1a" stroke-width="1.08" />
<polyline points="305,695.5 524.08,633.27 575.14,619.01 630.69,590.48" fill="none" stroke="#1a1a1a" stroke-width="0.72" />
<polyline points="278.05,666.31 368.89,643.78" fill="none" stroke="#1a1a1a" stroke-width="1.56" />
<polyline points="279.55,668.86 370.39,646.04" fill="none" stroke="#1a1a1a" stroke-width="0.72" />
<polyline points="257.78,621.26 657,529" fill="none" stroke="#555" stroke-width="0.6" />
<polyline points="288.56,646.79 395.17,619.01 665.23,535.05" fill="none" stroke="#555" stroke-width="0.6" />
<polyline points="305.08,680.57 530,619.01 716,556" fill="none" stroke="#888" stroke-width="0.6" />
<polyline points="375.65,644.53 389.16,676.07" fill="none" stroke="#1a1a1a" stroke-width="0.84" />
<polyline points="646.46,568.38 657.72,580.09" fill="none" stroke="#1a1a1a" stroke-width="0.84" />
<polyline points="590.15,583.39 590.15,574.08" fill="none" stroke="#1a1a1a" stroke-width="0.84" />
<polyline points="274.29,655.05 280.3,664.35" fill="none" stroke="#1a1a1a" stroke-width="0.72" />
<polyline points="279.55,653.84 285.56,663.15" fill="none" stroke="#1a1a1a" stroke-width="0.72" />
<polyline points="284.8,652.64 290.81,661.95" fill="none" stroke="#1a1a1a" stroke-width="0.72" />
<polyline points="290.06,651.44 296.07,660.75" fill="none" stroke="#1a1a1a" stroke-width="0.72" />
<polyline points="274.29,655.05 290.06,651.29 296.07,661.05 280.3,664.8 274.29,655.05" fill="none" stroke="#1a1a1a" stroke-width="0.84" />
<polyline points="668.23,517.78 732.04,564.77" fill="none" stroke="#1a1a1a" stroke-width="0.96" />
<polyline points="656.22,507.27 668.23,517.78" fill="none" stroke="#1a1a1a" stroke-width="0.84" />
<polyline points="668.23,520.03 729.79,565.83 687.75,577.84" fill="none" stroke="#555" stroke-width="0.6" />
<polyline points="653.96,549.76 686.25,577.84" fill="none" stroke="#1a1a1a" stroke-width="0.84" />
<polyline points="655.77,549.16 688.05,577.09" fill="none" stroke="#1a1a1a" stroke-width="0.84" />
<polyline points="657.57,548.56 689.85,576.34" fill="none" stroke="#1a1a1a" stroke-width="0.84" />
<polyline points="659.37,547.96 691.65,575.59" fill="none" stroke="#1a1a1a" stroke-width="0.84" />
<polyline points="661.17,547.36 693.45,574.83" fill="none" stroke="#1a1a1a" stroke-width="0.84" />
<polygon points="491.05,592.28 545.11,565.26 560.12,578.02 575.89,595.29 522.58,626.82 507.57,615.56" fill="none" stroke="#1c1c1c" stroke-width="1.08" />
<polyline points="491.05,592.28 522.58,626.82" fill="none" stroke="#1a1a1a" stroke-width="1.2" />
<polyline points="492.77,591.42 524.276,625.817" fill="none" stroke="#1a1a1a" stroke-width="0.72" />
<polyline points="496.911,593.351 507.615,604.999" fill="none" stroke="#333" stroke-width="1.92" />
<polyline points="497.54,594.036 506.985,604.314" fill="none" stroke="#fff" stroke-width="0.72" />
<polyline points="495.965,589.824 527.426,623.954" fill="none" stroke="#1a1a1a" stroke-width="1.2" />
<polyline points="497.685,588.964 529.123,622.95" fill="none" stroke="#1a1a1a" stroke-width="0.72" />
<polyline points="501.82,590.861 512.501,602.371" fill="none" stroke="#333" stroke-width="1.92" />
<polyline points="502.448,591.538 511.873,601.694" fill="none" stroke="#fff" stroke-width="0.72" />
<polyline points="500.879,587.367 532.273,621.087" fill="none" stroke="#1a1a1a" stroke-width="1.2" />
<polyline points="502.599,586.508 533.969,620.084" fill="none" stroke="#1a1a1a" stroke-width="0.72" />
<polyline points="506.729,588.372 517.387,599.742" fill="none" stroke="#333" stroke-width="1.92" />
<polyline points="507.356,589.041 516.76,599.073" fill="none" stroke="#fff" stroke-width="0.72" />
<polyline points="505.794,584.911 537.119,618.221" fill="none" stroke="#1a1a1a" stroke-width="1.2" />
<polyline points="507.514,584.051 538.815,617.218" fill="none" stroke="#1a1a1a" stroke-width="0.72" />
<polyline points="511.638,585.883 522.273,597.114" fill="none" stroke="#333" stroke-width="1.92" />
<polyline points="512.263,586.544 521.647,596.453" fill="none" stroke="#fff" stroke-width="0.72" />
<polyline points="510.708,582.455 541.965,615.355" fill="none" stroke="#1a1a1a" stroke-width="1.2" />
<polyline points="512.428,581.595 543.662,614.351" fill="none" stroke="#1a1a1a" stroke-width="0.72" />
<polyline points="516.547,583.394 527.159,594.485" fill="none" stroke="#333" stroke-width="1.92" />
<polyline points="517.171,584.046 526.534,593.833" fill="none" stroke="#fff" stroke-width="0.72" />
<polyline points="515.623,579.998 546.812,612.488" fill="none" stroke="#1a1a1a" stroke-width="1.2" />
<polyline points="517.343,579.138 548.508,611.485" fill="none" stroke="#1a1a1a" stroke-width="0.72" />
<polyline points="521.456,580.905 532.045,591.857" fill="none" stroke="#333" stroke-width="1.92" />
<polyline points="522.079,581.549 531.422,591.212" fill="none" stroke="#fff" stroke-width="0.72" />
<polyline points="520.537,577.542 551.658,609.622" fill="none" stroke="#1a1a1a" stroke-width="1.2" />
<polyline points="522.257,576.682 553.354,608.619" fill="none" stroke="#1a1a1a" stroke-width="0.72" />
<polyline points="526.365,578.416 536.93,589.228" fill="none" stroke="#333" stroke-width="1.92" />
<polyline points="526.987,579.052 536.309,588.592" fill="none" stroke="#fff" stroke-width="0.72" />
<polyline points="525.452,575.085 556.505,606.755" fill="none" stroke="#1a1a1a" stroke-width="1.2" />
<polyline points="527.172,574.226 558.201,605.752" fill="none" stroke="#1a1a1a" stroke-width="0.72" />
<polyline points="531.274,575.926 541.816,586.599" fill="none" stroke="#333" stroke-width="1.92" />
<polyline points="531.894,576.554 541.196,585.972" fill="none" stroke="#fff" stroke-width="0.72" />
<polyline points="530.366,572.629 561.351,603.889" fill="none" stroke="#1a1a1a" stroke-width="1.2" />
<polyline points="532.086,571.769 563.047,602.886" fill="none" stroke="#1a1a1a" stroke-width="0.72" />
<polyline points="536.183,573.437 546.702,583.971" fill="none" stroke="#333" stroke-width="1.92" />
<polyline points="536.802,574.057 546.084,583.351" fill="none" stroke="#fff" stroke-width="0.72" />
<polyline points="535.281,570.173 566.197,601.023" fill="none" stroke="#1a1a1a" stroke-width="1.2" />
<polyline points="537.001,569.313 567.894,600.019" fill="none" stroke="#1a1a1a" stroke-width="0.72" />
<polyline points="541.092,570.948 551.588,581.342" fill="none" stroke="#333" stroke-width="1.92" />
<polyline points="541.71,571.56 550.971,580.731" fill="none" stroke="#fff" stroke-width="0.72" />
<polyline points="540.195,567.716 571.044,598.156" fill="none" stroke="#1a1a1a" stroke-width="1.2" />
<polyline points="541.916,566.857 572.74,597.153" fill="none" stroke="#1a1a1a" stroke-width="0.72" />
<polyline points="546.001,568.459 556.474,578.714" fill="none" stroke="#333" stroke-width="1.92" />
<polyline points="546.618,569.062 555.858,578.111" fill="none" stroke="#fff" stroke-width="0.72" />
<polyline points="545.11,565.26 575.89,595.29" fill="none" stroke="#1a1a1a" stroke-width="1.2" />
<polyline points="505.239,607.823 558.961,578.774" fill="none" stroke="#1a1a1a" stroke-width="0.84" />
<polyline points="506.815,609.55 560.5,580.275" fill="none" stroke="#1a1a1a" stroke-width="0.84" />
<polyline points="507.57,615.56 564.62,582.52" fill="none" stroke="#1a1a1a" stroke-width="1.8" />
<polyline points="500.06,605.05 558.62,576.52" fill="none" stroke="#1a1a1a" stroke-width="0.84" />
<polyline points="515.08,621.56 570.63,590.03" fill="none" stroke="#1a1a1a" stroke-width="0.84" />
<polygon points="479.34,597.54 482.79,595.29 494.35,607.75 490.3,611.05" fill="none" stroke="#1c1c1c" stroke-width="1.08" />
<polygon points="481.59,598.44 483.54,597.24 492.25,607.3 490,608.8" fill="none" stroke="#1c1c1c" stroke-width="0.72" />
<polyline points="510.57,608.05 512.07,638.08" fill="none" stroke="#1a1a1a" stroke-width="1.08" />
<polyline points="572.88,597.54 573.63,624.56" fill="none" stroke="#1a1a1a" stroke-width="1.08" />
<polyline points="542.85,602.04 543.6,632.07" fill="none" stroke="#1a1a1a" stroke-width="0.84" />
<path d="M295.0,590.0 L394.1,571.5 A2.3,2.3 0 0 1 393.2,567.0 L294.1,585.5 A2.3,2.3 0 0 1 295.0,590.0 Z" fill="none" stroke="#1c1c1c" stroke-width="0.7"/>
<path d="M562.3,529.1 L613.4,513.3 A2.4,2.4 0 0 1 612.0,508.7 L560.9,524.5 A2.4,2.4 0 0 1 562.3,529.1 Z" fill="none" stroke="#1c1c1c" stroke-width="0.7"/>
<polyline points="308.08,583.54 395.17,567.03" fill="none" stroke="#1a1a1a" stroke-width="0.84" />
<polyline points="308.08,591.8 365.14,580.54" fill="none" stroke="#1a1a1a" stroke-width="0.84" />
<path d="M267.0,601.1l0.6,7.0M272.8,612.6l0.6,7.0M279.5,626.1l0.6,10.0M287.0,641.1l0.6,10.0M295.0,657.1l0.6,10.0M303.1,673.4l0.6,10.0M300.5,592.7l0.6,7.0M306.7,604.1l0.6,7.0M314.0,617.3l0.6,10.0M322.1,632.0l0.6,10.0M330.7,647.7l0.6,10.0M339.4,663.6l0.6,10.0M334.1,584.4l0.6,7.0M340.8,595.5l0.6,7.0M348.6,608.5l0.6,10.0M357.3,622.9l0.6,10.0M366.5,638.3l0.6,10.0M375.9,653.9l0.6,10.0M366.3,576.5l0.6,7.0M373.4,587.3l0.6,7.0M381.7,600.0l0.6,10.0M390.9,614.2l0.6,10.0M400.8,629.3l0.6,10.0M410.8,644.5l0.6,10.0M397.5,568.7l0.6,7.0M405.1,579.4l0.6,7.0M413.9,591.8l0.6,10.0M423.7,605.7l0.6,10.0M434.2,620.5l0.6,10.0M444.8,635.4l0.6,10.0M428.2,561.2l0.6,7.0M436.2,571.6l0.6,7.0M445.5,583.8l0.6,10.0M455.9,597.3l0.6,10.0M467.0,611.8l0.6,10.0M478.2,626.4l0.6,10.0M457.2,554.0l0.6,7.0M465.6,564.2l0.6,7.0M475.5,576.1l0.6,10.0M486.5,589.4l0.6,10.0M498.2,603.5l0.6,10.0M510.0,617.8l0.6,10.0M486.2,546.8l0.6,7.0M495.1,556.8l0.6,7.0M505.5,568.5l0.6,10.0M517.0,581.4l0.6,10.0M529.4,595.3l0.6,10.0M541.8,609.3l0.6,10.0M514.4,539.9l0.6,7.0M523.7,549.7l0.6,7.0M534.6,561.0l0.6,10.0M546.7,573.7l0.6,10.0M559.7,587.3l0.6,10.0M572.8,600.9l0.6,10.0M541.8,533.2l0.6,7.0M551.6,542.7l0.6,7.0M563.0,553.8l0.6,10.0M575.7,566.2l0.6,10.0M589.3,579.4l0.6,10.0M603.0,592.8l0.6,10.0M568.0,526.7l0.6,7.0M578.3,536.0l0.6,7.0M590.2,546.9l0.6,10.0M603.5,558.9l0.6,10.0M617.7,571.9l0.6,10.0M632.0,584.9l0.6,10.0M594.8,520.1l0.6,7.0M605.4,529.2l0.6,7.0M617.9,539.8l0.6,10.0M631.7,551.6l0.6,10.0M646.6,564.2l0.6,10.0M661.5,576.9l0.6,10.0M619.3,514.1l0.6,7.0M630.4,523.0l0.6,7.0M643.4,533.3l0.6,10.0M657.8,544.8l0.6,10.0M673.3,557.1l0.6,10.0M688.8,569.5l0.6,10.0M669.0,526.8l0.6,10.0M684.0,538.0l0.6,10.0M700.0,550.0l0.6,10.0M716.2,562.1l0.6,10.0" stroke="#c4c4c4" stroke-width="1.3" fill="none"/>
<path d="M267.0,592.4v8.4M272.8,603.9v8.4M279.5,617.4v8.4M287.0,632.4v8.4M295.0,648.4v8.4M303.1,664.6v8.4M300.5,584.0v8.4M306.7,595.4v8.4M314.0,608.6v8.4M322.1,623.3v8.4M330.7,639.0v8.4M339.4,654.9v8.4M334.1,575.7v8.4M340.8,586.8v8.4M348.6,599.8v8.4M357.3,614.2v8.4M366.5,629.6v8.4M375.9,645.2v8.4M366.3,567.8v8.4M373.4,578.6v8.4M381.7,591.3v8.4M390.9,605.5v8.4M400.8,620.6v8.4M410.8,635.8v8.4M397.5,560.0v8.4M405.1,570.7v8.4M413.9,583.1v8.4M423.7,597.0v8.4M434.2,611.8v8.4M444.8,626.7v8.4M428.2,552.5v8.4M436.2,562.9v8.4M445.5,575.1v8.4M455.9,588.6v8.4M467.0,603.1v8.4M478.2,617.7v8.4M457.2,545.3v8.4M465.6,555.5v8.4M475.5,567.4v8.4M486.5,580.7v8.4M498.2,594.8v8.4M510.0,609.1v8.4M486.2,538.1v8.4M495.1,548.1v8.4M505.5,559.8v8.4M517.0,572.7v8.4M529.4,586.6v8.4M541.8,600.6v8.4M514.4,531.2v8.4M523.7,541.0v8.4M534.6,552.3v8.4M546.7,565.0v8.4M559.7,578.6v8.4M572.8,592.2v8.4M541.8,524.5v8.4M551.6,534.0v8.4M563.0,545.1v8.4M575.7,557.5v8.4M589.3,570.7v8.4M603.0,584.1v8.4M568.0,518.0v8.4M578.3,527.3v8.4M590.2,538.2v8.4M603.5,550.2v8.4M617.7,563.2v8.4M632.0,576.2v8.4M594.8,511.4v8.4M605.4,520.5v8.4M617.9,531.1v8.4M631.7,542.9v8.4M646.6,555.5v8.4M661.5,568.2v8.4M619.3,505.4v8.4M630.4,514.3v8.4M643.4,524.6v8.4M657.8,536.1v8.4M673.3,548.4v8.4M688.8,560.8v8.4M669.0,518.1v8.4M684.0,529.3v8.4M700.0,541.3v8.4M716.2,553.4v8.4" stroke="#262626" stroke-width="1.6" stroke-linecap="round" fill="none"/>
<polyline points="428.32,501.23 510.15,485.02" fill="none" stroke="#222" stroke-width="0.72" />
<polyline points="432.07,530.06 513.15,512.04" fill="none" stroke="#222" stroke-width="0.72" />
<polyline points="435.08,549.58 514.65,532.31 522.16,530.81" fill="none" stroke="#222" stroke-width="0.72" />
<polyline points="435.08,560.09 495.14,546.88" fill="none" stroke="#222" stroke-width="0.72" />
<polyline points="550.69,502.28 621.26,488.02 660,480.51" fill="none" stroke="#222" stroke-width="0.72" />
<polyline points="550.69,522.55 660,499.28" fill="none" stroke="#222" stroke-width="0.72" />
<polyline points="360,551.08 396.04,542.37" fill="none" stroke="#222" stroke-width="0.72" />
<polyline points="360,566.1 397.54,557.84" fill="none" stroke="#222" stroke-width="0.72" />
<polyline points="360,581.11 396.04,573.6" fill="none" stroke="#222" stroke-width="0.72" />
<polyline points="394.53,511.29 429.07,504.53" fill="none" stroke="#222" stroke-width="0.72" />
<polyline points="510.15,485.02 549.19,477.21" fill="none" stroke="#222" stroke-width="0.72" />
<polyline points="185,555 240,543.7" fill="none" stroke="#1a1a1a" stroke-width="0.84" />
<polyline points="193.7,586.2 247.5,575" fill="none" stroke="#1a1a1a" stroke-width="0.84" />
<path d="M229,606 C229.33,605.00 229.67,601.50 231,600 C232.33,598.50 233.83,597.67 237,597 C240.17,596.33 247.83,596.17 250,596" fill="none" stroke="#1a1a1a" stroke-width="0.84"/></g>
<g><polyline points="630.93,233.84 619.67,242.85 612.16,242.1 604.65,251.11" fill="none" stroke="#333" stroke-width="0.54" />
<polyline points="632.53,232.64 621.27,241.65 613.76,240.9 606.25,249.91" fill="none" stroke="#333" stroke-width="0.54" />
<polyline points="595.65,322.28 586.64,332.04 577.63,332.79 568.62,341.05" fill="none" stroke="#333" stroke-width="0.54" />
<polyline points="597.25,321.08 588.24,330.84 579.23,331.59 570.22,339.85" fill="none" stroke="#333" stroke-width="0.54" />
<polyline points="519.82,433.54 510.06,444.05 502.55,445.56 493.54,453.81" fill="none" stroke="#333" stroke-width="0.54" />
<polyline points="521.42,432.34 511.66,442.85 504.15,444.36 495.14,452.61" fill="none" stroke="#333" stroke-width="0.54" />
<polyline points="468.53,563.57 459.52,569.58 452.01,571.83 444.5,578.59" fill="none" stroke="#333" stroke-width="0.54" />
<polyline points="470.13,562.37 461.12,568.38 453.61,570.63 446.1,577.39" fill="none" stroke="#333" stroke-width="0.54" />
<polyline points="468.74,564.02 459.73,570.03 452.22,571.53 444.71,579.04" fill="none" stroke="#333" stroke-width="0.54" />
<polyline points="470.34,562.82 461.33,568.83 453.82,570.33 446.31,577.84" fill="none" stroke="#333" stroke-width="0.54" />
<polyline points="450.27,257.1 480,266.11" fill="none" stroke="#333" stroke-width="0.54" />
<polyline points="451.87,255.9 481.6,264.91" fill="none" stroke="#333" stroke-width="0.54" />
<polyline points="274.08,281.29 295.11,283.54 304.11,288.05" fill="none" stroke="#333" stroke-width="0.54" />
<polyline points="275.68,280.09 296.71,282.34 305.71,286.85" fill="none" stroke="#333" stroke-width="0.54" />
<polyline points="284.08,377.06 305.11,378.56 315.62,383.06" fill="none" stroke="#333" stroke-width="0.54" />
<polyline points="285.68,375.86 306.71,377.36 317.22,381.86" fill="none" stroke="#333" stroke-width="0.54" />
<polyline points="296.58,483.06 313.09,486.07 331.11,490.57" fill="none" stroke="#333" stroke-width="0.54" />
<polyline points="298.18,481.86 314.69,484.87 332.71,489.37" fill="none" stroke="#333" stroke-width="0.54" />
<polyline points="314.08,604.86 335.11,606.07 344.11,608.32" fill="none" stroke="#333" stroke-width="0.54" />
<polyline points="315.68,603.66 336.71,604.87 345.71,607.12" fill="none" stroke="#333" stroke-width="0.54" /></g>
</g>
<text x="705.5" y="739.8" font-size="15" font-weight="700" textLength="100" lengthAdjust="spacingAndGlyphs" fill="#111">SİRKÜLASYON</text>
<text x="1674.5" y="740.8" font-size="15" font-weight="700" textLength="63.5" lengthAdjust="spacingAndGlyphs" fill="#111">İŞLEVLER</text>
<rect x="1676.1" y="342.2" width="15.7" height="15.8" fill="#7e8fa3"/>
<text transform="translate(1696.9,357.8) scale(0.66,1)" font-size="18.3" textLength="198.5" lengthAdjust="spacing" fill="#151515">MECLİS SALONU</text>
<rect x="1676.1" y="367" width="15.7" height="15.8" fill="#d5a726"/>
<text transform="translate(1697.9,382.6) scale(0.66,1)" font-size="18.3" textLength="312.1" lengthAdjust="spacing" fill="#151515">YEMEKHANE KAFETERYA</text>
<rect x="1676.1" y="391.2" width="15.7" height="15.8" fill="#ff6633"/>
<text transform="translate(1698.5,406.8) scale(0.66,1)" font-size="18.3" textLength="167.0" lengthAdjust="spacing" fill="#151515">FUAYE SERGİ</text>
<rect x="1676.1" y="415" width="15.7" height="15.8" fill="#6cc46e"/>
<text transform="translate(1698.9,430.6) scale(0.66,1)" font-size="18.3" textLength="78.5" lengthAdjust="spacing" fill="#151515">BAHÇE</text>
<rect x="1676.1" y="439.6" width="15.7" height="15.8" fill="#3f6a8c"/>
<text transform="translate(1698.9,455.2) scale(0.66,1)" font-size="18.3" textLength="178.5" lengthAdjust="spacing" fill="#151515">MÜDÜRLÜKLER</text>
<rect x="1676.1" y="465.8" width="15.7" height="15.8" fill="#a8604d"/>
<text transform="translate(1698.9,481.4) scale(0.66,1)" font-size="18.3" textLength="187.3" lengthAdjust="spacing" fill="#151515">GRUP ODALARI</text>
<rect x="1676.1" y="490.3" width="15.7" height="15.8" fill="#f0287c"/>
<text transform="translate(1698.9,505.9) scale(0.66,1)" font-size="18.3" textLength="139.7" lengthAdjust="spacing" fill="#151515">BAŞKANLIK</text>
</svg>
</body></html>
